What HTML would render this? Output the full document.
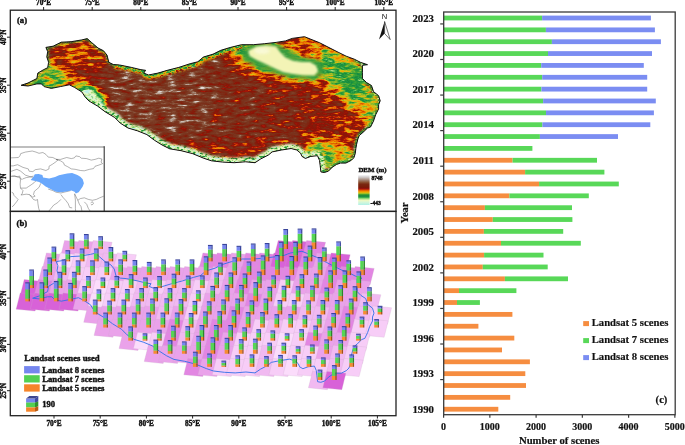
<!DOCTYPE html>
<html><head><meta charset="utf-8"><style>
html,body{margin:0;padding:0;background:#fff;width:685px;height:445px;overflow:hidden}
svg{display:block}
text{font-family:'Liberation Serif', 'Times New Roman', serif;fill:#111}
.sm{stroke:#111;stroke-width:0.4px}
.sm2{stroke:#111;stroke-width:0.18px}
</style></head><body>
<svg width="685" height="445" viewBox="0 0 685 445">
<rect x="443.60" y="15.60" width="98.50" height="4.8" fill="#58d858"/>
<rect x="542.10" y="15.60" width="108.80" height="4.8" fill="#7b8df2"/>
<rect x="443.60" y="27.46" width="102.30" height="4.8" fill="#58d858"/>
<rect x="545.90" y="27.46" width="109.00" height="4.8" fill="#7b8df2"/>
<rect x="443.60" y="39.31" width="108.30" height="4.8" fill="#58d858"/>
<rect x="551.90" y="39.31" width="109.00" height="4.8" fill="#7b8df2"/>
<rect x="443.60" y="51.16" width="104.40" height="4.8" fill="#58d858"/>
<rect x="548.00" y="51.16" width="104.00" height="4.8" fill="#7b8df2"/>
<rect x="443.60" y="63.02" width="97.60" height="4.8" fill="#58d858"/>
<rect x="541.20" y="63.02" width="102.60" height="4.8" fill="#7b8df2"/>
<rect x="443.60" y="74.88" width="98.60" height="4.8" fill="#58d858"/>
<rect x="542.20" y="74.88" width="105.00" height="4.8" fill="#7b8df2"/>
<rect x="443.60" y="86.73" width="97.80" height="4.8" fill="#58d858"/>
<rect x="541.40" y="86.73" width="105.80" height="4.8" fill="#7b8df2"/>
<rect x="443.60" y="98.58" width="99.50" height="4.8" fill="#58d858"/>
<rect x="543.10" y="98.58" width="112.70" height="4.8" fill="#7b8df2"/>
<rect x="443.60" y="110.44" width="102.40" height="4.8" fill="#58d858"/>
<rect x="546.00" y="110.44" width="107.90" height="4.8" fill="#7b8df2"/>
<rect x="443.60" y="122.30" width="98.80" height="4.8" fill="#58d858"/>
<rect x="542.40" y="122.30" width="107.90" height="4.8" fill="#7b8df2"/>
<rect x="443.60" y="134.15" width="96.30" height="4.8" fill="#58d858"/>
<rect x="539.90" y="134.15" width="78.10" height="4.8" fill="#7b8df2"/>
<rect x="443.60" y="146.00" width="88.80" height="4.8" fill="#58d858"/>
<rect x="443.60" y="157.86" width="69.00" height="4.8" fill="#f68d40"/>
<rect x="512.60" y="157.86" width="84.40" height="4.8" fill="#58d858"/>
<rect x="443.60" y="169.72" width="81.50" height="4.8" fill="#f68d40"/>
<rect x="525.10" y="169.72" width="79.30" height="4.8" fill="#58d858"/>
<rect x="443.60" y="181.57" width="95.50" height="4.8" fill="#f68d40"/>
<rect x="539.10" y="181.57" width="79.70" height="4.8" fill="#58d858"/>
<rect x="443.60" y="193.43" width="65.80" height="4.8" fill="#f68d40"/>
<rect x="509.40" y="193.43" width="79.40" height="4.8" fill="#58d858"/>
<rect x="443.60" y="205.28" width="41.30" height="4.8" fill="#f68d40"/>
<rect x="484.90" y="205.28" width="87.10" height="4.8" fill="#58d858"/>
<rect x="443.60" y="217.13" width="49.20" height="4.8" fill="#f68d40"/>
<rect x="492.80" y="217.13" width="79.60" height="4.8" fill="#58d858"/>
<rect x="443.60" y="228.99" width="40.30" height="4.8" fill="#f68d40"/>
<rect x="483.90" y="228.99" width="79.30" height="4.8" fill="#58d858"/>
<rect x="443.60" y="240.84" width="57.40" height="4.8" fill="#f68d40"/>
<rect x="501.00" y="240.84" width="79.80" height="4.8" fill="#58d858"/>
<rect x="443.60" y="252.70" width="40.50" height="4.8" fill="#f68d40"/>
<rect x="484.10" y="252.70" width="59.40" height="4.8" fill="#58d858"/>
<rect x="443.60" y="264.56" width="39.20" height="4.8" fill="#f68d40"/>
<rect x="482.80" y="264.56" width="64.90" height="4.8" fill="#58d858"/>
<rect x="443.60" y="276.41" width="61.30" height="4.8" fill="#f68d40"/>
<rect x="504.90" y="276.41" width="63.10" height="4.8" fill="#58d858"/>
<rect x="443.60" y="288.27" width="15.40" height="4.8" fill="#f68d40"/>
<rect x="459.00" y="288.27" width="57.40" height="4.8" fill="#58d858"/>
<rect x="443.60" y="300.12" width="13.40" height="4.8" fill="#f68d40"/>
<rect x="457.00" y="300.12" width="22.90" height="4.8" fill="#58d858"/>
<rect x="443.60" y="311.98" width="68.80" height="4.8" fill="#f68d40"/>
<rect x="443.60" y="323.83" width="34.80" height="4.8" fill="#f68d40"/>
<rect x="443.60" y="335.69" width="70.70" height="4.8" fill="#f68d40"/>
<rect x="443.60" y="347.54" width="58.40" height="4.8" fill="#f68d40"/>
<rect x="443.60" y="359.40" width="86.30" height="4.8" fill="#f68d40"/>
<rect x="443.60" y="371.25" width="81.70" height="4.8" fill="#f68d40"/>
<rect x="443.60" y="383.11" width="82.40" height="4.8" fill="#f68d40"/>
<rect x="443.60" y="394.96" width="66.60" height="4.8" fill="#f68d40"/>
<rect x="443.60" y="406.82" width="54.70" height="4.8" fill="#f68d40"/>
<rect x="443.7" y="12.0" width="231.50" height="402.70" fill="none" stroke="#3a3a3a" stroke-width="1.3"/>
<line x1="440.2" y1="23.93" x2="443.7" y2="23.93" stroke="#3a3a3a" stroke-width="1.2"/>
<line x1="440.2" y1="59.49" x2="443.7" y2="59.49" stroke="#3a3a3a" stroke-width="1.2"/>
<line x1="440.2" y1="95.06" x2="443.7" y2="95.06" stroke="#3a3a3a" stroke-width="1.2"/>
<line x1="440.2" y1="130.62" x2="443.7" y2="130.62" stroke="#3a3a3a" stroke-width="1.2"/>
<line x1="440.2" y1="166.19" x2="443.7" y2="166.19" stroke="#3a3a3a" stroke-width="1.2"/>
<line x1="440.2" y1="201.75" x2="443.7" y2="201.75" stroke="#3a3a3a" stroke-width="1.2"/>
<line x1="440.2" y1="237.32" x2="443.7" y2="237.32" stroke="#3a3a3a" stroke-width="1.2"/>
<line x1="440.2" y1="272.88" x2="443.7" y2="272.88" stroke="#3a3a3a" stroke-width="1.2"/>
<line x1="440.2" y1="308.45" x2="443.7" y2="308.45" stroke="#3a3a3a" stroke-width="1.2"/>
<line x1="440.2" y1="344.01" x2="443.7" y2="344.01" stroke="#3a3a3a" stroke-width="1.2"/>
<line x1="440.2" y1="379.58" x2="443.7" y2="379.58" stroke="#3a3a3a" stroke-width="1.2"/>
<line x1="443.60" y1="414.7" x2="443.60" y2="417.7" stroke="#3a3a3a" stroke-width="1.2"/>
<text x="443.60" y="430" font-size="10" text-anchor="middle" font-weight="bold" class="sm2">0</text>
<line x1="489.85" y1="414.7" x2="489.85" y2="417.7" stroke="#3a3a3a" stroke-width="1.2"/>
<text x="489.85" y="430" font-size="10" text-anchor="middle" font-weight="bold" class="sm2">1000</text>
<line x1="536.10" y1="414.7" x2="536.10" y2="417.7" stroke="#3a3a3a" stroke-width="1.2"/>
<text x="536.10" y="430" font-size="10" text-anchor="middle" font-weight="bold" class="sm2">2000</text>
<line x1="582.35" y1="414.7" x2="582.35" y2="417.7" stroke="#3a3a3a" stroke-width="1.2"/>
<text x="582.35" y="430" font-size="10" text-anchor="middle" font-weight="bold" class="sm2">3000</text>
<line x1="628.60" y1="414.7" x2="628.60" y2="417.7" stroke="#3a3a3a" stroke-width="1.2"/>
<text x="628.60" y="430" font-size="10" text-anchor="middle" font-weight="bold" class="sm2">4000</text>
<line x1="674.85" y1="414.7" x2="674.85" y2="417.7" stroke="#3a3a3a" stroke-width="1.2"/>
<text x="674.85" y="430" font-size="10" text-anchor="middle" font-weight="bold" class="sm2">5000</text>
<text x="434" y="21.70" font-size="10.8" text-anchor="end" font-weight="bold" class="sm2">2023</text>
<text x="434" y="57.27" font-size="10.8" text-anchor="end" font-weight="bold" class="sm2">2020</text>
<text x="434" y="92.83" font-size="10.8" text-anchor="end" font-weight="bold" class="sm2">2017</text>
<text x="434" y="128.40" font-size="10.8" text-anchor="end" font-weight="bold" class="sm2">2014</text>
<text x="434" y="163.96" font-size="10.8" text-anchor="end" font-weight="bold" class="sm2">2011</text>
<text x="434" y="199.53" font-size="10.8" text-anchor="end" font-weight="bold" class="sm2">2008</text>
<text x="434" y="235.09" font-size="10.8" text-anchor="end" font-weight="bold" class="sm2">2005</text>
<text x="434" y="270.66" font-size="10.8" text-anchor="end" font-weight="bold" class="sm2">2002</text>
<text x="434" y="306.22" font-size="10.8" text-anchor="end" font-weight="bold" class="sm2">1999</text>
<text x="434" y="341.79" font-size="10.8" text-anchor="end" font-weight="bold" class="sm2">1996</text>
<text x="434" y="377.35" font-size="10.8" text-anchor="end" font-weight="bold" class="sm2">1993</text>
<text x="434" y="412.92" font-size="10.8" text-anchor="end" font-weight="bold" class="sm2">1990</text>
<text transform="translate(408,213) rotate(-90)" font-size="10.5" text-anchor="middle" font-weight="bold" class="sm2">Year</text>
<text x="559.2" y="444.3" font-size="10.7" text-anchor="middle" font-weight="bold" class="sm2">Number of scenes</text>
<text x="661.5" y="403.3" font-size="10.6" text-anchor="middle" font-weight="bold" class="sm2">(c)</text>
<rect x="583.2" y="321.10" width="5.8" height="5.0" fill="#f68d40"/>
<text x="591.7" y="326.40" font-size="10.7" font-weight="bold" class="sm2">Landsat 5 scenes</text>
<rect x="583.2" y="338.10" width="5.8" height="5.0" fill="#58d858"/>
<text x="591.7" y="343.40" font-size="10.7" font-weight="bold" class="sm2">Landsat 7 scenes</text>
<rect x="583.2" y="355.10" width="5.8" height="5.0" fill="#7b8df2"/>
<text x="591.7" y="360.40" font-size="10.7" font-weight="bold" class="sm2">Landsat 8 scenes</text>
<defs>
<clipPath id="clipA"><polygon points="21.1,85.3 28.0,83.0 36.9,78.5 37.8,73.1 43.2,69.9 47.7,67.7 48.6,62.3 46.8,56.9 47.7,51.6 45.9,47.4 53.1,46.2 61.2,42.2 71.1,41.7 81.9,39.9 87.2,38.6 91.7,42.6 98.0,48.0 103.4,50.7 107.0,55.1 108.8,62.3 113.3,64.5 119.6,65.0 131.4,67.4 140.9,69.7 145.6,70.3 143.7,73.1 148.5,75.0 158.0,73.1 167.4,70.3 178.8,67.4 190.2,63.7 197.8,61.8 203.5,57.0 213.0,54.2 220.6,50.4 230.1,47.5 241.5,44.7 253.3,44.7 264.7,43.7 276.1,42.4 285.5,40.9 292.2,38.4 304.5,36.7 310.2,39.0 319.7,42.8 330.0,48.1 338.1,52.2 346.2,56.2 354.3,59.2 360.4,62.3 367.5,64.7 362.4,65.3 362.4,72.4 362.4,78.5 366.5,82.5 371.5,85.6 373.5,91.6 378.6,95.7 380.2,100.8 378.6,104.8 378.6,108.9 375.6,114.9 373.5,121.0 370.5,127.0 367.4,128.1 363.3,132.1 359.3,135.5 357.9,138.9 356.6,144.3 355.9,148.3 355.2,153.7 353.9,157.7 351.2,160.4 345.8,163.1 340.4,163.1 336.4,164.5 332.3,167.2 328.3,171.2 324.3,172.5 320.9,171.9 320.2,165.8 319.5,160.4 317.5,155.7 310.8,156.4 305.4,158.4 302.0,156.4 300.6,153.2 296.8,150.0 291.1,148.5 281.6,150.0 272.1,151.9 268.3,155.1 260.7,158.9 255.0,162.7 245.5,161.8 234.2,162.7 222.8,162.1 211.4,160.8 203.9,158.3 192.5,153.6 181.1,150.7 169.7,148.8 162.1,145.0 154.5,140.3 146.9,134.6 137.4,130.8 128.0,128.0 120.4,123.2 114.7,117.5 105.2,111.8 97.6,106.1 89.0,101.0 85.4,97.4 81.9,92.0 74.7,87.5 69.3,84.8 60.3,86.6 51.3,88.4 44.1,86.6 41.4,83.9 36.9,83.9 28.0,86.0"/></clipPath>
<filter id="gb1" x="-50%" y="-50%" width="200%" height="200%"><feGaussianBlur stdDeviation="1"/></filter>
<filter id="gb1_5" x="-50%" y="-50%" width="200%" height="200%"><feGaussianBlur stdDeviation="1.5"/></filter>
<filter id="gb2" x="-50%" y="-50%" width="200%" height="200%"><feGaussianBlur stdDeviation="2"/></filter>
<filter id="gb2_5" x="-50%" y="-50%" width="200%" height="200%"><feGaussianBlur stdDeviation="2.5"/></filter>
<filter id="gb3" x="-50%" y="-50%" width="200%" height="200%"><feGaussianBlur stdDeviation="3"/></filter>
<filter id="gb4" x="-50%" y="-50%" width="200%" height="200%"><feGaussianBlur stdDeviation="4"/></filter>
<filter id="gb5" x="-50%" y="-50%" width="200%" height="200%"><feGaussianBlur stdDeviation="5"/></filter>
<filter id="gb6" x="-50%" y="-50%" width="200%" height="200%"><feGaussianBlur stdDeviation="6"/></filter>
<filter id="gb8" x="-50%" y="-50%" width="200%" height="200%"><feGaussianBlur stdDeviation="8"/></filter>
<filter id="gb10" x="-50%" y="-50%" width="200%" height="200%"><feGaussianBlur stdDeviation="10"/></filter>
<linearGradient id="demLeg" x1="0" y1="0" x2="0" y2="1"><stop offset="0" stop-color="#eeeef0"/><stop offset="0.067" stop-color="#d0cccc"/><stop offset="0.17" stop-color="#a08070"/><stop offset="0.24" stop-color="#8a5030"/><stop offset="0.3" stop-color="#7a2810"/><stop offset="0.41" stop-color="#7a1a08"/><stop offset="0.46" stop-color="#a01010"/><stop offset="0.5" stop-color="#e05000"/><stop offset="0.53" stop-color="#f08000"/><stop offset="0.57" stop-color="#f0b000"/><stop offset="0.61" stop-color="#b0c020"/><stop offset="0.65" stop-color="#40a030"/><stop offset="0.7" stop-color="#108040"/><stop offset="0.75" stop-color="#40b050"/><stop offset="0.79" stop-color="#a0e080"/><stop offset="0.84" stop-color="#f0f8c0"/><stop offset="0.9" stop-color="#d8f8d8"/><stop offset="1" stop-color="#b0f0e8"/></linearGradient>
<filter id="dem" x="0" y="0" width="100%" height="100%" color-interpolation-filters="sRGB"><feGaussianBlur in="SourceGraphic" stdDeviation="4" result="base"/><feTurbulence type="fractalNoise" baseFrequency="0.09 0.3" numOctaves="4" seed="4" result="noise"/><feColorMatrix in="noise" type="matrix" values="1 0 0 0 0  1 0 0 0 0  1 0 0 0 0  0 0 0 0 1" result="ng"/><feComposite in="base" in2="ng" operator="arithmetic" k1="0" k2="1" k3="0.46" k4="-0.23" result="elev"/><feComponentTransfer in="elev"><feFuncR type="table" tableValues="0.706 0.728 0.749 0.771 0.793 0.815 0.848 0.881 0.914 0.929 0.863 0.796 0.730 0.642 0.523 0.403 0.294 0.217 0.140 0.074 0.112 0.149 0.186 0.283 0.382 0.482 0.598 0.717 0.837 0.891 0.911 0.931 0.929 0.904 0.879 0.781 0.685 0.629 0.573 0.540 0.525 0.509 0.500 0.491 0.485 0.482 0.478 0.485 0.491 0.508 0.536 0.564 0.625 0.687 0.747 0.803 0.859 0.874 0.887 0.899 0.912 0.924 0.937 0.949"/><feFuncG type="table" tableValues="0.941 0.946 0.951 0.955 0.960 0.965 0.967 0.969 0.971 0.968 0.943 0.918 0.893 0.859 0.809 0.759 0.707 0.650 0.593 0.544 0.571 0.599 0.626 0.656 0.686 0.716 0.730 0.739 0.749 0.714 0.654 0.595 0.523 0.439 0.355 0.219 0.093 0.084 0.075 0.085 0.110 0.134 0.153 0.172 0.187 0.199 0.212 0.227 0.243 0.275 0.325 0.375 0.479 0.585 0.678 0.756 0.834 0.854 0.870 0.886 0.901 0.917 0.933 0.949"/><feFuncB type="table" tableValues="0.918 0.907 0.896 0.885 0.874 0.863 0.839 0.814 0.789 0.757 0.695 0.633 0.571 0.505 0.436 0.366 0.309 0.292 0.275 0.258 0.245 0.233 0.220 0.210 0.200 0.190 0.156 0.117 0.077 0.050 0.030 0.010 0.000 0.000 0.000 0.016 0.031 0.028 0.025 0.031 0.043 0.056 0.071 0.087 0.101 0.113 0.126 0.138 0.151 0.183 0.236 0.289 0.405 0.523 0.630 0.724 0.817 0.840 0.858 0.877 0.895 0.913 0.931 0.949"/><feFuncA type="linear" slope="0" intercept="1"/></feComponentTransfer></filter>
<filter id="dem2" x="0" y="0" width="100%" height="100%" color-interpolation-filters="sRGB"><feGaussianBlur in="SourceGraphic" stdDeviation="0.9" result="base"/><feTurbulence type="fractalNoise" baseFrequency="0.25 0.5" numOctaves="3" seed="9" result="noise"/><feColorMatrix in="noise" type="matrix" values="1 0 0 0 0  1 0 0 0 0  1 0 0 0 0  0 0 0 0 1" result="ng"/><feColorMatrix in="base" type="matrix" values="1 0 0 0 0  0 1 0 0 0  0 0 1 0 0  0 0 0 0 1" result="b2"/><feComposite in="b2" in2="ng" operator="arithmetic" k1="0" k2="1" k3="0.6" k4="-0.3" result="elev"/><feComponentTransfer in="elev" result="col"><feFuncR type="table" tableValues="0.706 0.728 0.749 0.771 0.793 0.815 0.848 0.881 0.914 0.929 0.863 0.796 0.730 0.642 0.523 0.403 0.294 0.217 0.140 0.074 0.112 0.149 0.186 0.283 0.382 0.482 0.598 0.717 0.837 0.891 0.911 0.931 0.929 0.904 0.879 0.781 0.685 0.629 0.573 0.540 0.525 0.509 0.500 0.491 0.485 0.482 0.478 0.485 0.491 0.508 0.536 0.564 0.625 0.687 0.747 0.803 0.859 0.874 0.887 0.899 0.912 0.924 0.937 0.949"/><feFuncG type="table" tableValues="0.941 0.946 0.951 0.955 0.960 0.965 0.967 0.969 0.971 0.968 0.943 0.918 0.893 0.859 0.809 0.759 0.707 0.650 0.593 0.544 0.571 0.599 0.626 0.656 0.686 0.716 0.730 0.739 0.749 0.714 0.654 0.595 0.523 0.439 0.355 0.219 0.093 0.084 0.075 0.085 0.110 0.134 0.153 0.172 0.187 0.199 0.212 0.227 0.243 0.275 0.325 0.375 0.479 0.585 0.678 0.756 0.834 0.854 0.870 0.886 0.901 0.917 0.933 0.949"/><feFuncB type="table" tableValues="0.918 0.907 0.896 0.885 0.874 0.863 0.839 0.814 0.789 0.757 0.695 0.633 0.571 0.505 0.436 0.366 0.309 0.292 0.275 0.258 0.245 0.233 0.220 0.210 0.200 0.190 0.156 0.117 0.077 0.050 0.030 0.010 0.000 0.000 0.000 0.016 0.031 0.028 0.025 0.031 0.043 0.056 0.071 0.087 0.101 0.113 0.126 0.138 0.151 0.183 0.236 0.289 0.405 0.523 0.630 0.724 0.817 0.840 0.858 0.877 0.895 0.913 0.931 0.949"/><feFuncA type="linear" slope="0" intercept="1"/></feComponentTransfer><feComposite in="col" in2="base" operator="in"/></filter>
</defs>
<g clip-path="url(#clipA)"><g filter="url(#dem)">
<rect x="12" y="30" width="375" height="150" fill="rgb(168,168,168)"/>
<polygon points="95.0,60.0 240.0,48.0 262.0,62.0 262.0,150.0 180.0,152.0 110.0,122.0 95.0,90.0" fill="rgb(176,176,176)"/>
<polygon points="100.0,66.0 200.0,58.0 215.0,100.0 200.0,140.0 150.0,138.0 112.0,118.0 100.0,90.0" fill="rgb(189,189,189)"/>
<polygon points="262.0,70.0 300.0,78.0 305.0,150.0 262.0,158.0" fill="rgb(168,168,168)"/>
<polygon points="120.0,128.0 200.0,140.0 260.0,142.0 300.0,140.0 300.0,152.0 250.0,158.0 190.0,152.0 130.0,138.0" fill="rgb(158,158,158)"/>
<polygon points="45.0,40.0 90.0,36.0 110.0,55.0 112.0,70.0 95.0,74.0 60.0,72.0 46.0,62.0" fill="rgb(150,150,150)"/>
<polygon points="60.0,42.0 100.0,40.0 108.0,56.0 90.0,60.0 62.0,56.0" fill="rgb(140,140,140)"/>
<polygon points="18.0,88.0 38.0,74.0 48.0,64.0 62.0,68.0 72.0,84.0 60.0,92.0 40.0,92.0" fill="rgb(97,97,97)"/>
<polygon points="60.0,78.0 80.0,80.0 96.0,95.0 100.0,106.0 88.0,104.0 72.0,92.0" fill="rgb(120,120,120)"/>
<polygon points="78.0,86.0 90.0,86.0 101.0,96.0 108.0,108.0 100.0,112.0 86.0,104.0" fill="rgb(0,0,0)"/>
<polygon points="238.0,58.0 255.0,64.0 280.0,72.0 318.0,76.0 330.0,84.0 300.0,86.0 260.0,80.0 235.0,72.0" fill="rgb(140,140,140)"/>
<polygon points="285.0,36.0 305.0,33.0 332.0,46.0 330.0,64.0 312.0,62.0 296.0,58.0 284.0,50.0" fill="rgb(138,138,138)"/>
<polygon points="230.0,40.0 252.0,40.0 252.0,60.0 232.0,60.0" fill="rgb(89,89,89)"/>
<polygon points="244.0,49.0 258.0,43.0 278.0,44.0 300.0,58.0 320.0,61.0 324.0,73.0 314.0,79.0 290.0,77.0 262.0,69.0 244.0,59.0" fill="rgb(76,76,76)"/>
<polygon points="322.0,50.0 345.0,56.0 366.0,66.0 366.0,84.0 378.0,98.0 376.0,110.0 352.0,106.0 330.0,86.0 322.0,70.0" fill="rgb(87,87,87)"/>
<polygon points="300.0,84.0 330.0,86.0 352.0,106.0 372.0,112.0 360.0,140.0 345.0,160.0 320.0,165.0 305.0,150.0 295.0,120.0" fill="rgb(158,158,158)"/>
<polygon points="335.0,102.0 374.0,108.0 368.0,135.0 356.0,160.0 344.0,162.0 335.0,140.0" fill="rgb(150,150,150)"/>
<polygon points="312.0,138.0 340.0,142.0 356.0,155.0 345.0,166.0 325.0,173.0 318.0,160.0 302.0,154.0" fill="rgb(107,107,107)"/>
<polygon points="366.0,86.0 382.0,96.0 380.0,112.0 372.0,128.0 362.0,124.0" fill="rgb(107,107,107)"/>
</g>
<g filter="url(#dem2)">
<polyline points="320.9,171.9 320.2,165.8 319.5,160.4 317.5,155.7 310.8,156.4 305.4,158.4 302.0,156.4 300.6,153.2 296.8,150.0 291.1,148.5 281.6,150.0 272.1,151.9 268.3,155.1 260.7,158.9 255.0,162.7 245.5,161.8 234.2,162.7 222.8,162.1 211.4,160.8 203.9,158.3 192.5,153.6 181.1,150.7 169.7,148.8 162.1,145.0 154.5,140.3 146.9,134.6 137.4,130.8 128.0,128.0 120.4,123.2 114.7,117.5 105.2,111.8 97.6,106.1 89.0,101.0 85.4,97.4" fill="none" stroke="rgb(43,43,43)" stroke-width="10" stroke-linejoin="round"/>
<polyline points="113.3,64.5 119.6,65.0 131.4,67.4 140.9,69.7 145.6,70.3 143.7,73.1 148.5,75.0 158.0,73.1 167.4,70.3 178.8,67.4 190.2,63.7 197.8,61.8 203.5,57.0 213.0,54.2 220.6,50.4 230.1,47.5 241.5,44.7" fill="none" stroke="rgb(128,128,128)" stroke-width="4" stroke-linejoin="round" transform="translate(0.5,2.4)"/>
<polyline points="113.3,64.5 119.6,65.0 131.4,67.4 140.9,69.7 145.6,70.3 143.7,73.1 148.5,75.0 158.0,73.1 167.4,70.3 178.8,67.4 190.2,63.7 197.8,61.8 203.5,57.0 213.0,54.2 220.6,50.4 230.1,47.5 241.5,44.7" fill="none" stroke="rgb(84,84,84)" stroke-width="4" stroke-linejoin="round"/>
<polyline points="354.3,59.2 360.4,62.3 367.5,64.7 362.4,65.3 362.4,72.4 362.4,78.5 366.5,82.5 371.5,85.6 373.5,91.6 378.6,95.7 380.2,100.8 378.6,104.8 378.6,108.9 375.6,114.9 373.5,121.0 370.5,127.0 367.4,128.1 363.3,132.1 359.3,135.5 357.9,138.9 356.6,144.3 355.9,148.3 355.2,153.7 353.9,157.7 351.2,160.4 345.8,163.1 340.4,163.1 336.4,164.5 332.3,167.2 328.3,171.2 324.3,172.5 320.9,171.9" fill="none" stroke="rgb(76,76,76)" stroke-width="4" stroke-linejoin="round"/>
<polyline points="21.1,85.3 28.0,83.0 36.9,78.5 37.8,73.1 43.2,69.9 47.7,67.7 48.6,62.3 46.8,56.9 47.7,51.6 45.9,47.4 53.1,46.2 61.2,42.2 71.1,41.7 81.9,39.9 87.2,38.6 91.7,42.6 98.0,48.0 103.4,50.7 107.0,55.1 108.8,62.3 113.3,64.5" fill="none" stroke="rgb(84,84,84)" stroke-width="2.6" stroke-linejoin="round"/>
</g>
<polygon points="244.0,49.0 258.0,43.0 278.0,44.0 300.0,57.0 320.0,60.0 325.0,73.0 315.0,80.0 290.0,78.0 262.0,70.0 243.0,60.0" fill="#3d9d3d" opacity="0.85" filter="url(#gb1_5)"/>
<polygon points="248.2,50.8 256.5,46.5 266.3,45.2 276.0,46.6 280.5,52.5 285.5,57.5 293.0,60.8 302.0,62.0 310.0,62.0 316.0,65.5 318.2,71.2 314.4,75.4 303.0,75.2 292.4,74.0 283.0,72.2 274.8,68.6 265.5,64.0 256.5,60.0 249.5,56.0" fill="#f3f4b6" filter="url(#gb1)"/>
<ellipse cx="262" cy="51" rx="8" ry="3" fill="#fbfbe0" opacity="0.8" filter="url(#gb1_5)"/>
</g>
<polygon points="21.1,85.3 28.0,83.0 36.9,78.5 37.8,73.1 43.2,69.9 47.7,67.7 48.6,62.3 46.8,56.9 47.7,51.6 45.9,47.4 53.1,46.2 61.2,42.2 71.1,41.7 81.9,39.9 87.2,38.6 91.7,42.6 98.0,48.0 103.4,50.7 107.0,55.1 108.8,62.3 113.3,64.5 119.6,65.0 131.4,67.4 140.9,69.7 145.6,70.3 143.7,73.1 148.5,75.0 158.0,73.1 167.4,70.3 178.8,67.4 190.2,63.7 197.8,61.8 203.5,57.0 213.0,54.2 220.6,50.4 230.1,47.5 241.5,44.7 253.3,44.7 264.7,43.7 276.1,42.4 285.5,40.9 292.2,38.4 304.5,36.7 310.2,39.0 319.7,42.8 330.0,48.1 338.1,52.2 346.2,56.2 354.3,59.2 360.4,62.3 367.5,64.7 362.4,65.3 362.4,72.4 362.4,78.5 366.5,82.5 371.5,85.6 373.5,91.6 378.6,95.7 380.2,100.8 378.6,104.8 378.6,108.9 375.6,114.9 373.5,121.0 370.5,127.0 367.4,128.1 363.3,132.1 359.3,135.5 357.9,138.9 356.6,144.3 355.9,148.3 355.2,153.7 353.9,157.7 351.2,160.4 345.8,163.1 340.4,163.1 336.4,164.5 332.3,167.2 328.3,171.2 324.3,172.5 320.9,171.9 320.2,165.8 319.5,160.4 317.5,155.7 310.8,156.4 305.4,158.4 302.0,156.4 300.6,153.2 296.8,150.0 291.1,148.5 281.6,150.0 272.1,151.9 268.3,155.1 260.7,158.9 255.0,162.7 245.5,161.8 234.2,162.7 222.8,162.1 211.4,160.8 203.9,158.3 192.5,153.6 181.1,150.7 169.7,148.8 162.1,145.0 154.5,140.3 146.9,134.6 137.4,130.8 128.0,128.0 120.4,123.2 114.7,117.5 105.2,111.8 97.6,106.1 89.0,101.0 85.4,97.4 81.9,92.0 74.7,87.5 69.3,84.8 60.3,86.6 51.3,88.4 44.1,86.6 41.4,83.9 36.9,83.9 28.0,86.0" fill="none" stroke="#111" stroke-width="1"/>
<text x="384.5" y="19.2" font-size="7.6" text-anchor="middle" style="font-family:Liberation Sans,sans-serif">N</text>
<polygon points="384.6,21.5 379,39.6 384.6,33.5" fill="#111"/>
<polygon points="384.6,21.5 390.2,39.6 384.6,33.5" fill="#fff" stroke="#111" stroke-width="0.6"/>
<text x="358.4" y="171.9" font-size="6.9" font-weight="bold" class="sm">DEM (m)</text>
<rect x="358.2" y="175.2" width="11.4" height="29.8" fill="url(#demLeg)"/>
<text x="371.4" y="180.3" font-size="5.6" font-weight="bold" class="sm">8748</text>
<text x="370.6" y="204.5" font-size="5.6" font-weight="bold" class="sm">-443</text>
<rect x="10.3" y="146.8" width="93.9" height="64.4" fill="#fff"/>
<polyline points="10.5,157.9 18.4,157.5 19.9,155.9 20.7,153.6 25.3,152.1 32.2,151.0 36.0,152.1 39.0,153.3 42.9,152.5 45.9,154.4 48.2,157.1 52.8,157.5 56.6,159.4 58.0,159.8 56.6,161.3 52.8,164.0 49.0,166.3 49.0,168.9 45.9,170.5 40.6,168.9 35.2,169.7 32.9,171.6" fill="none" stroke="#555" stroke-width="0.45"/>
<polyline points="10.5,165.9 13.1,165.9 17.6,164.7 23.0,167.4 28.3,168.9 29.1,171.2 32.9,171.6" fill="none" stroke="#555" stroke-width="0.45"/>
<polyline points="10.5,171.2 11.5,171.2 16.9,169.3 20.7,171.2 25.3,175.1 29.9,176.6 32.9,177.3" fill="none" stroke="#555" stroke-width="0.45"/>
<polyline points="10.5,176.6 14.6,175.8 20.7,178.1 22.2,180.0" fill="none" stroke="#555" stroke-width="0.45"/>
<polyline points="56.0,159.4 60.6,159.4 66.7,157.5 71.3,158.6 74.3,157.9 75.9,155.9 79.7,156.7 81.2,158.2 86.6,158.6 91.2,160.1 95.0,159.4 98.8,158.2 101.9,159.0 101.1,162.1 102.6,163.6 98.8,165.1 95.0,166.3 93.5,168.6 89.6,169.3 84.3,170.8 80.5,170.5 75.1,169.3 71.3,168.9 67.5,166.6 64.4,165.1 63.6,162.8 60.6,160.9 56.0,159.4" fill="none" stroke="#555" stroke-width="0.45"/>
<polyline points="11.6,176.0 17.3,176.8 19.7,176.0 20.5,180.0 20.1,184.1 20.5,188.1 23.0,190.6 22.1,193.8 20.9,195.0" fill="none" stroke="#555" stroke-width="0.45"/>
<polyline points="22.5,179.0 26.2,177.6 31.1,176.8 33.5,176.0" fill="none" stroke="#555" stroke-width="0.45"/>
<polyline points="20.5,188.1 26.2,188.1 28.6,186.5 31.1,184.9 34.3,182.5 35.9,180.9" fill="none" stroke="#555" stroke-width="0.45"/>
<polyline points="40.8,183.3 39.1,187.3 34.3,191.4 33.5,194.6 35.1,196.2 32.7,197.1 29.4,194.6 26.2,194.2 20.9,195.0" fill="none" stroke="#555" stroke-width="0.45"/>
<polyline points="29.4,194.6 31.9,197.5 33.5,199.5 35.9,200.3 37.5,199.5 37.9,203.5 38.7,208.4 39.6,211.0" fill="none" stroke="#555" stroke-width="0.45"/>
<polyline points="11.6,192.2 13.2,193.0 14.0,195.4 16.5,197.9 18.1,199.5 16.5,201.9 13.2,206.0 12.0,206.8" fill="none" stroke="#555" stroke-width="0.45"/>
<polyline points="48.1,189.0 52.9,190.6 56.0,192.2 60.9,193.0 64.1,192.2 70.6,190.6" fill="none" stroke="#555" stroke-width="0.45"/>
<polyline points="48.9,211.0 53.7,205.1 57.6,202.7 60.9,199.4" fill="none" stroke="#555" stroke-width="0.45"/>
<polyline points="60.9,194.6 63.3,197.8 65.7,200.3 68.1,203.5 69.7,207.5 72.2,207.9" fill="none" stroke="#555" stroke-width="0.45"/>
<polyline points="74.6,193.8 76.2,197.0 77.8,200.3 79.4,204.3 81.1,206.7 81.9,211.0" fill="none" stroke="#555" stroke-width="0.45"/>
<polyline points="77.8,200.3 80.3,198.6 84.3,197.8 88.3,199.4 92.4,200.3 96.4,199.4 99.7,197.8 103.7,196.2" fill="none" stroke="#555" stroke-width="0.45"/>
<polyline points="84.3,201.9 86.7,204.3 88.3,208.3 90.0,211.0" fill="none" stroke="#555" stroke-width="0.45"/>
<polyline points="74.6,193.8 75.4,200.0 75.4,208.3 75.6,211.0" fill="none" stroke="#555" stroke-width="0.45"/>
<polyline points="90.8,202.5 92.6,201.8 93.4,203.6 92.0,205.1 90.8,204.0" fill="none" stroke="#555" stroke-width="0.45"/>
<polygon points="30.6,180.0 33.5,176.8 34.8,174.3 38.6,173.9 42.4,175.1 43.1,177.4 49.1,178.4 55.1,176.9 59.0,175.3 63.6,174.3 67.2,173.6 72.1,173.1 77.4,175.1 80.3,176.8 82.7,179.2 83.9,183.3 82.7,186.5 80.3,190.1 78.6,192.2 75.8,193.4 74.6,191.8 71.4,190.6 66.5,191.4 60.9,192.2 56.0,191.8 50.5,189.0 45.6,186.5 42.4,184.1 39.1,182.1 35.1,180.9" fill="#6aa8fc"/>
<line x1="10.3" y1="146.9" x2="104.2" y2="146.9" stroke="#a8a8a8" stroke-width="1.5"/>
<line x1="104.2" y1="146.2" x2="104.2" y2="211.4" stroke="#222" stroke-width="1"/>
<polygon points="64.5,240.5 83.5,242.3 79.5,258.8 60.5,256.9" fill="#eaa2ea" stroke="#caa8ca" stroke-width="0.25"/>
<polygon points="78.8,240.5 97.8,242.3 93.8,258.8 74.8,256.9" fill="#eaa2ea" stroke="#caa8ca" stroke-width="0.25"/>
<polygon points="93.1,240.5 112.1,242.3 108.0,258.8 89.0,256.9" fill="#f1b9f1" stroke="#caa8ca" stroke-width="0.25"/>
<polygon points="278.2,240.5 297.2,242.3 293.1,258.8 274.1,256.9" fill="#d862d8" stroke="#caa8ca" stroke-width="0.25"/>
<polygon points="292.6,240.5 311.6,242.3 307.4,258.8 288.4,256.9" fill="#d862d8" stroke="#caa8ca" stroke-width="0.25"/>
<polygon points="306.6,240.5 325.6,242.3 321.4,258.8 302.4,256.9" fill="#e286e2" stroke="#caa8ca" stroke-width="0.25"/>
<polygon points="46.4,252.9 65.5,254.8 61.4,271.1 42.4,269.2" fill="#eaa2ea" stroke="#caa8ca" stroke-width="0.25"/>
<polygon points="60.3,252.9 79.3,254.8 75.2,271.1 56.2,269.2" fill="#fbdcfb" stroke="#caa8ca" stroke-width="0.25"/>
<polygon points="74.6,252.9 93.6,254.8 89.5,271.1 70.5,269.2" fill="#f7cdf7" stroke="#caa8ca" stroke-width="0.25"/>
<polygon points="88.8,252.9 107.8,254.8 103.8,271.1 84.8,269.2" fill="#f1b9f1" stroke="#caa8ca" stroke-width="0.25"/>
<polygon points="103.5,252.9 122.5,254.8 118.4,271.1 99.4,269.2" fill="#f1b9f1" stroke="#caa8ca" stroke-width="0.25"/>
<polygon points="117.3,252.9 136.4,254.8 132.2,271.1 113.2,269.2" fill="#f7cdf7" stroke="#caa8ca" stroke-width="0.25"/>
<polygon points="202.9,252.9 221.9,254.8 217.8,271.1 198.8,269.2" fill="#e286e2" stroke="#caa8ca" stroke-width="0.25"/>
<polygon points="217.2,252.9 236.2,254.8 232.0,271.1 213.0,269.2" fill="#e286e2" stroke="#caa8ca" stroke-width="0.25"/>
<polygon points="231.5,252.9 250.5,254.8 246.3,271.1 227.3,269.2" fill="#eaa2ea" stroke="#caa8ca" stroke-width="0.25"/>
<polygon points="245.8,252.9 264.8,254.8 260.6,271.1 241.6,269.2" fill="#e286e2" stroke="#caa8ca" stroke-width="0.25"/>
<polygon points="259.7,252.9 278.7,254.8 274.6,271.1 255.6,269.2" fill="#e286e2" stroke="#caa8ca" stroke-width="0.25"/>
<polygon points="273.9,252.9 292.9,254.8 288.8,271.1 269.8,269.2" fill="#d862d8" stroke="#caa8ca" stroke-width="0.25"/>
<polygon points="288.2,252.9 307.2,254.8 303.1,271.1 284.1,269.2" fill="#d862d8" stroke="#caa8ca" stroke-width="0.25"/>
<polygon points="302.6,252.9 321.6,254.8 317.4,271.1 298.4,269.2" fill="#e286e2" stroke="#caa8ca" stroke-width="0.25"/>
<polygon points="316.9,252.9 335.9,254.8 331.8,271.1 312.8,269.2" fill="#eaa2ea" stroke="#caa8ca" stroke-width="0.25"/>
<polygon points="331.2,252.9 350.2,254.8 346.1,271.1 327.1,269.2" fill="#d862d8" stroke="#caa8ca" stroke-width="0.25"/>
<polygon points="42.2,266.6 61.2,268.4 57.2,284.8 38.2,282.9" fill="#eaa2ea" stroke="#caa8ca" stroke-width="0.25"/>
<polygon points="56.5,266.6 75.5,268.4 71.5,284.8 52.5,282.9" fill="#f1b9f1" stroke="#caa8ca" stroke-width="0.25"/>
<polygon points="70.6,266.6 89.6,268.4 85.5,284.8 66.5,282.9" fill="#f7cdf7" stroke="#caa8ca" stroke-width="0.25"/>
<polygon points="85.0,266.6 104.0,268.4 99.9,284.8 80.9,282.9" fill="#f7cdf7" stroke="#caa8ca" stroke-width="0.25"/>
<polygon points="99.3,266.6 118.3,268.4 114.2,284.8 95.2,282.9" fill="#f7cdf7" stroke="#caa8ca" stroke-width="0.25"/>
<polygon points="113.1,266.6 132.2,268.4 128.0,284.8 109.0,282.9" fill="#eaa2ea" stroke="#caa8ca" stroke-width="0.25"/>
<polygon points="127.5,266.6 146.5,268.4 142.3,284.8 123.4,282.9" fill="#eaa2ea" stroke="#caa8ca" stroke-width="0.25"/>
<polygon points="141.8,266.6 160.8,268.4 156.6,284.8 137.6,282.9" fill="#eaa2ea" stroke="#caa8ca" stroke-width="0.25"/>
<polygon points="156.1,266.6 175.1,268.4 170.9,284.8 151.9,282.9" fill="#eaa2ea" stroke="#caa8ca" stroke-width="0.25"/>
<polygon points="170.2,266.6 189.2,268.4 185.1,284.8 166.1,282.9" fill="#eaa2ea" stroke="#caa8ca" stroke-width="0.25"/>
<polygon points="184.6,266.6 203.6,268.4 199.4,284.8 180.4,282.9" fill="#eaa2ea" stroke="#caa8ca" stroke-width="0.25"/>
<polygon points="198.7,266.6 217.7,268.4 213.5,284.8 194.5,282.9" fill="#eaa2ea" stroke="#caa8ca" stroke-width="0.25"/>
<polygon points="213.0,266.6 232.0,268.4 227.8,284.8 208.8,282.9" fill="#f1b9f1" stroke="#caa8ca" stroke-width="0.25"/>
<polygon points="227.2,266.6 246.2,268.4 242.1,284.8 223.1,282.9" fill="#eaa2ea" stroke="#caa8ca" stroke-width="0.25"/>
<polygon points="241.6,266.6 260.6,268.4 256.4,284.8 237.4,282.9" fill="#e286e2" stroke="#caa8ca" stroke-width="0.25"/>
<polygon points="255.7,266.6 274.7,268.4 270.6,284.8 251.6,282.9" fill="#e286e2" stroke="#caa8ca" stroke-width="0.25"/>
<polygon points="269.9,266.6 288.9,268.4 284.8,284.8 265.8,282.9" fill="#e286e2" stroke="#caa8ca" stroke-width="0.25"/>
<polygon points="284.4,266.6 303.4,268.4 299.2,284.8 280.2,282.9" fill="#e286e2" stroke="#caa8ca" stroke-width="0.25"/>
<polygon points="298.4,266.6 317.4,268.4 313.2,284.8 294.2,282.9" fill="#eaa2ea" stroke="#caa8ca" stroke-width="0.25"/>
<polygon points="312.7,266.6 331.7,268.4 327.6,284.8 308.6,282.9" fill="#eaa2ea" stroke="#caa8ca" stroke-width="0.25"/>
<polygon points="326.9,266.6 345.9,268.4 341.8,284.8 322.8,282.9" fill="#e286e2" stroke="#caa8ca" stroke-width="0.25"/>
<polygon points="341.2,266.6 360.2,268.4 356.1,284.8 337.1,282.9" fill="#e286e2" stroke="#caa8ca" stroke-width="0.25"/>
<polygon points="355.2,266.6 374.2,268.4 370.1,284.8 351.1,282.9" fill="#e286e2" stroke="#caa8ca" stroke-width="0.25"/>
<polygon points="24.2,279.6 43.1,281.4 39.1,297.8 20.1,295.9" fill="#d862d8" stroke="#caa8ca" stroke-width="0.25"/>
<polygon points="38.2,279.6 57.2,281.4 53.2,297.8 34.2,295.9" fill="#e286e2" stroke="#caa8ca" stroke-width="0.25"/>
<polygon points="52.5,279.6 71.5,281.4 67.5,297.8 48.5,295.9" fill="#eaa2ea" stroke="#caa8ca" stroke-width="0.25"/>
<polygon points="66.8,279.6 85.8,281.4 81.8,297.8 62.8,295.9" fill="#eaa2ea" stroke="#caa8ca" stroke-width="0.25"/>
<polygon points="81.0,279.6 100.0,281.4 95.9,297.8 76.9,295.9" fill="#f7cdf7" stroke="#caa8ca" stroke-width="0.25"/>
<polygon points="95.5,279.6 114.5,281.4 110.4,297.8 91.4,295.9" fill="#fbdcfb" stroke="#caa8ca" stroke-width="0.25"/>
<polygon points="109.3,279.6 128.3,281.4 124.2,297.8 105.2,295.9" fill="#f7cdf7" stroke="#caa8ca" stroke-width="0.25"/>
<polygon points="123.6,279.6 142.7,281.4 138.5,297.8 119.5,295.9" fill="#f7cdf7" stroke="#caa8ca" stroke-width="0.25"/>
<polygon points="138.0,279.6 157.0,281.4 152.8,297.8 133.8,295.9" fill="#f1b9f1" stroke="#caa8ca" stroke-width="0.25"/>
<polygon points="152.1,279.6 171.1,281.4 166.9,297.8 147.9,295.9" fill="#f7cdf7" stroke="#caa8ca" stroke-width="0.25"/>
<polygon points="166.6,279.6 185.6,281.4 181.4,297.8 162.4,295.9" fill="#f1b9f1" stroke="#caa8ca" stroke-width="0.25"/>
<polygon points="180.8,279.6 199.8,281.4 195.6,297.8 176.6,295.9" fill="#f1b9f1" stroke="#caa8ca" stroke-width="0.25"/>
<polygon points="194.9,279.6 213.9,281.4 209.8,297.8 190.8,295.9" fill="#f7cdf7" stroke="#caa8ca" stroke-width="0.25"/>
<polygon points="209.2,279.6 228.2,281.4 224.0,297.8 205.0,295.9" fill="#f1b9f1" stroke="#caa8ca" stroke-width="0.25"/>
<polygon points="223.5,279.6 242.5,281.4 238.3,297.8 219.3,295.9" fill="#eaa2ea" stroke="#caa8ca" stroke-width="0.25"/>
<polygon points="237.6,279.6 256.6,281.4 252.4,297.8 233.4,295.9" fill="#e286e2" stroke="#caa8ca" stroke-width="0.25"/>
<polygon points="251.9,279.6 270.9,281.4 266.8,297.8 247.8,295.9" fill="#eaa2ea" stroke="#caa8ca" stroke-width="0.25"/>
<polygon points="266.2,279.6 285.2,281.4 281.1,297.8 262.1,295.9" fill="#eaa2ea" stroke="#caa8ca" stroke-width="0.25"/>
<polygon points="280.4,279.6 299.4,281.4 295.3,297.8 276.3,295.9" fill="#f7cdf7" stroke="#caa8ca" stroke-width="0.25"/>
<polygon points="294.4,279.6 313.4,281.4 309.3,297.8 290.3,295.9" fill="#eaa2ea" stroke="#caa8ca" stroke-width="0.25"/>
<polygon points="308.9,279.6 327.9,281.4 323.8,297.8 304.8,295.9" fill="#eaa2ea" stroke="#caa8ca" stroke-width="0.25"/>
<polygon points="323.2,279.6 342.2,281.4 338.1,297.8 319.1,295.9" fill="#e286e2" stroke="#caa8ca" stroke-width="0.25"/>
<polygon points="337.4,279.6 356.4,281.4 352.3,297.8 333.3,295.9" fill="#eaa2ea" stroke="#caa8ca" stroke-width="0.25"/>
<polygon points="351.4,279.6 370.4,281.4 366.2,297.8 347.2,295.9" fill="#eaa2ea" stroke="#caa8ca" stroke-width="0.25"/>
<polygon points="20.2,292.9 39.1,294.8 35.1,311.1 16.1,309.2" fill="#d862d8" stroke="#caa8ca" stroke-width="0.25"/>
<polygon points="34.4,292.9 53.4,294.8 49.4,311.1 30.3,309.2" fill="#d862d8" stroke="#caa8ca" stroke-width="0.25"/>
<polygon points="48.8,292.9 67.8,294.8 63.7,311.1 44.7,309.2" fill="#d862d8" stroke="#caa8ca" stroke-width="0.25"/>
<polygon points="63.0,292.9 82.0,294.8 78.0,311.1 59.0,309.2" fill="#d862d8" stroke="#caa8ca" stroke-width="0.25"/>
<polygon points="77.1,292.9 96.1,294.8 92.0,311.1 73.0,309.2" fill="#eaa2ea" stroke="#caa8ca" stroke-width="0.25"/>
<polygon points="91.5,292.9 110.5,294.8 106.4,311.1 87.4,309.2" fill="#fbdcfb" stroke="#caa8ca" stroke-width="0.25"/>
<polygon points="105.5,292.9 124.5,294.8 120.5,311.1 101.5,309.2" fill="#f7cdf7" stroke="#caa8ca" stroke-width="0.25"/>
<polygon points="119.8,292.9 138.9,294.8 134.8,311.1 115.8,309.2" fill="#f7cdf7" stroke="#caa8ca" stroke-width="0.25"/>
<polygon points="134.2,292.9 153.2,294.8 149.0,311.1 130.0,309.2" fill="#f1b9f1" stroke="#caa8ca" stroke-width="0.25"/>
<polygon points="148.2,292.9 167.2,294.8 163.1,311.1 144.1,309.2" fill="#f1b9f1" stroke="#caa8ca" stroke-width="0.25"/>
<polygon points="162.6,292.9 181.6,294.8 177.4,311.1 158.4,309.2" fill="#f1b9f1" stroke="#caa8ca" stroke-width="0.25"/>
<polygon points="177.0,292.9 196.0,294.8 191.8,311.1 172.8,309.2" fill="#f1b9f1" stroke="#caa8ca" stroke-width="0.25"/>
<polygon points="190.9,292.9 209.9,294.8 205.8,311.1 186.8,309.2" fill="#f7cdf7" stroke="#caa8ca" stroke-width="0.25"/>
<polygon points="205.2,292.9 224.2,294.8 220.1,311.1 201.1,309.2" fill="#eaa2ea" stroke="#caa8ca" stroke-width="0.25"/>
<polygon points="219.7,292.9 238.7,294.8 234.5,311.1 215.5,309.2" fill="#eaa2ea" stroke="#caa8ca" stroke-width="0.25"/>
<polygon points="234.0,292.9 253.0,294.8 248.8,311.1 229.8,309.2" fill="#eaa2ea" stroke="#caa8ca" stroke-width="0.25"/>
<polygon points="248.2,292.9 267.2,294.8 263.1,311.1 244.1,309.2" fill="#e286e2" stroke="#caa8ca" stroke-width="0.25"/>
<polygon points="262.4,292.9 281.4,294.8 277.2,311.1 258.2,309.2" fill="#eaa2ea" stroke="#caa8ca" stroke-width="0.25"/>
<polygon points="276.6,292.9 295.6,294.8 291.4,311.1 272.4,309.2" fill="#f7cdf7" stroke="#caa8ca" stroke-width="0.25"/>
<polygon points="290.7,292.9 309.7,294.8 305.6,311.1 286.6,309.2" fill="#f7cdf7" stroke="#caa8ca" stroke-width="0.25"/>
<polygon points="304.9,292.9 323.9,294.8 319.8,311.1 300.8,309.2" fill="#f1b9f1" stroke="#caa8ca" stroke-width="0.25"/>
<polygon points="319.4,292.9 338.4,294.8 334.2,311.1 315.2,309.2" fill="#eaa2ea" stroke="#caa8ca" stroke-width="0.25"/>
<polygon points="333.2,292.9 352.2,294.8 348.1,311.1 329.1,309.2" fill="#eaa2ea" stroke="#caa8ca" stroke-width="0.25"/>
<polygon points="347.6,292.9 366.6,294.8 362.4,311.1 343.4,309.2" fill="#eaa2ea" stroke="#caa8ca" stroke-width="0.25"/>
<polygon points="361.9,292.9 380.9,294.8 376.8,311.1 357.8,309.2" fill="#f1b9f1" stroke="#caa8ca" stroke-width="0.25"/>
<polygon points="87.8,305.9 106.8,307.8 102.7,324.2 83.7,322.3" fill="#eaa2ea" stroke="#caa8ca" stroke-width="0.25"/>
<polygon points="102.0,305.9 121.0,307.8 117.0,324.2 98.0,322.3" fill="#eaa2ea" stroke="#caa8ca" stroke-width="0.25"/>
<polygon points="116.3,305.9 135.4,307.8 131.2,324.2 112.2,322.3" fill="#eaa2ea" stroke="#caa8ca" stroke-width="0.25"/>
<polygon points="130.7,305.9 149.7,307.8 145.5,324.2 126.5,322.3" fill="#eaa2ea" stroke="#caa8ca" stroke-width="0.25"/>
<polygon points="145.0,305.9 164.0,307.8 159.8,324.2 140.8,322.3" fill="#eaa2ea" stroke="#caa8ca" stroke-width="0.25"/>
<polygon points="159.2,305.9 178.2,307.8 174.1,324.2 155.1,322.3" fill="#f1b9f1" stroke="#caa8ca" stroke-width="0.25"/>
<polygon points="173.6,305.9 192.6,307.8 188.4,324.2 169.4,322.3" fill="#eaa2ea" stroke="#caa8ca" stroke-width="0.25"/>
<polygon points="187.5,305.9 206.5,307.8 202.3,324.2 183.3,322.3" fill="#f7cdf7" stroke="#caa8ca" stroke-width="0.25"/>
<polygon points="201.8,305.9 220.8,307.8 216.6,324.2 197.6,322.3" fill="#eaa2ea" stroke="#caa8ca" stroke-width="0.25"/>
<polygon points="216.1,305.9 235.1,307.8 230.9,324.2 211.9,322.3" fill="#eaa2ea" stroke="#caa8ca" stroke-width="0.25"/>
<polygon points="230.2,305.9 249.2,307.8 245.0,324.2 226.0,322.3" fill="#e286e2" stroke="#caa8ca" stroke-width="0.25"/>
<polygon points="244.5,305.9 263.4,307.8 259.3,324.2 240.3,322.3" fill="#eaa2ea" stroke="#caa8ca" stroke-width="0.25"/>
<polygon points="258.4,305.9 277.4,307.8 273.3,324.2 254.3,322.3" fill="#eaa2ea" stroke="#caa8ca" stroke-width="0.25"/>
<polygon points="272.4,305.9 291.4,307.8 287.3,324.2 268.3,322.3" fill="#eaa2ea" stroke="#caa8ca" stroke-width="0.25"/>
<polygon points="286.8,305.9 305.8,307.8 301.6,324.2 282.6,322.3" fill="#eaa2ea" stroke="#caa8ca" stroke-width="0.25"/>
<polygon points="301.1,305.9 320.1,307.8 315.9,324.2 296.9,322.3" fill="#f1b9f1" stroke="#caa8ca" stroke-width="0.25"/>
<polygon points="315.4,305.9 334.4,307.8 330.3,324.2 311.3,322.3" fill="#f1b9f1" stroke="#caa8ca" stroke-width="0.25"/>
<polygon points="329.8,305.9 348.8,307.8 344.6,324.2 325.6,322.3" fill="#eaa2ea" stroke="#caa8ca" stroke-width="0.25"/>
<polygon points="343.8,305.9 362.8,307.8 358.6,324.2 339.6,322.3" fill="#e286e2" stroke="#caa8ca" stroke-width="0.25"/>
<polygon points="358.1,305.9 377.1,307.8 372.9,324.2 353.9,322.3" fill="#f1b9f1" stroke="#caa8ca" stroke-width="0.25"/>
<polygon points="372.6,305.9 391.6,307.8 387.4,324.2 368.4,322.3" fill="#f7cdf7" stroke="#caa8ca" stroke-width="0.25"/>
<polygon points="98.1,319.1 117.1,320.9 113.0,337.3 94.0,335.4" fill="#eaa2ea" stroke="#caa8ca" stroke-width="0.25"/>
<polygon points="112.5,319.1 131.6,320.9 127.5,337.3 108.5,335.4" fill="#eaa2ea" stroke="#caa8ca" stroke-width="0.25"/>
<polygon points="126.9,319.1 145.9,320.9 141.8,337.3 122.8,335.4" fill="#eaa2ea" stroke="#caa8ca" stroke-width="0.25"/>
<polygon points="141.2,319.1 160.2,320.9 156.0,337.3 137.0,335.4" fill="#eaa2ea" stroke="#caa8ca" stroke-width="0.25"/>
<polygon points="155.5,319.1 174.5,320.9 170.3,337.3 151.3,335.4" fill="#eaa2ea" stroke="#caa8ca" stroke-width="0.25"/>
<polygon points="169.8,319.1 188.8,320.9 184.6,337.3 165.6,335.4" fill="#e286e2" stroke="#caa8ca" stroke-width="0.25"/>
<polygon points="183.7,319.1 202.7,320.9 198.5,337.3 179.5,335.4" fill="#f1b9f1" stroke="#caa8ca" stroke-width="0.25"/>
<polygon points="198.0,319.1 217.0,320.9 212.8,337.3 193.8,335.4" fill="#eaa2ea" stroke="#caa8ca" stroke-width="0.25"/>
<polygon points="212.2,319.1 231.2,320.9 227.1,337.3 208.1,335.4" fill="#e286e2" stroke="#caa8ca" stroke-width="0.25"/>
<polygon points="226.6,319.1 245.6,320.9 241.4,337.3 222.4,335.4" fill="#e286e2" stroke="#caa8ca" stroke-width="0.25"/>
<polygon points="240.7,319.1 259.7,320.9 255.6,337.3 236.5,335.4" fill="#eaa2ea" stroke="#caa8ca" stroke-width="0.25"/>
<polygon points="254.9,319.1 273.9,320.9 269.8,337.3 250.8,335.4" fill="#f7cdf7" stroke="#caa8ca" stroke-width="0.25"/>
<polygon points="269.4,319.1 288.4,320.9 284.2,337.3 265.2,335.4" fill="#f1b9f1" stroke="#caa8ca" stroke-width="0.25"/>
<polygon points="283.2,319.1 302.2,320.9 298.1,337.3 279.1,335.4" fill="#f7cdf7" stroke="#caa8ca" stroke-width="0.25"/>
<polygon points="297.4,319.1 316.4,320.9 312.3,337.3 293.3,335.4" fill="#f7cdf7" stroke="#caa8ca" stroke-width="0.25"/>
<polygon points="311.8,319.1 330.8,320.9 326.6,337.3 307.6,335.4" fill="#f1b9f1" stroke="#caa8ca" stroke-width="0.25"/>
<polygon points="326.2,319.1 345.2,320.9 341.1,337.3 322.1,335.4" fill="#eaa2ea" stroke="#caa8ca" stroke-width="0.25"/>
<polygon points="340.4,319.1 359.4,320.9 355.2,337.3 336.2,335.4" fill="#e286e2" stroke="#caa8ca" stroke-width="0.25"/>
<polygon points="354.6,319.1 373.6,320.9 369.4,337.3 350.4,335.4" fill="#f7cdf7" stroke="#caa8ca" stroke-width="0.25"/>
<polygon points="369.2,319.1 388.2,320.9 384.1,337.3 365.1,335.4" fill="#f7cdf7" stroke="#caa8ca" stroke-width="0.25"/>
<polygon points="123.1,332.2 142.2,334.1 138.0,350.4 119.0,348.6" fill="#eaa2ea" stroke="#caa8ca" stroke-width="0.25"/>
<polygon points="137.6,332.2 156.6,334.1 152.4,350.4 133.4,348.6" fill="#fbdcfb" stroke="#caa8ca" stroke-width="0.25"/>
<polygon points="151.9,332.2 170.9,334.1 166.8,350.4 147.8,348.6" fill="#f7cdf7" stroke="#caa8ca" stroke-width="0.25"/>
<polygon points="166.0,332.2 185.0,334.1 180.8,350.4 161.8,348.6" fill="#e286e2" stroke="#caa8ca" stroke-width="0.25"/>
<polygon points="180.2,332.2 199.2,334.1 195.1,350.4 176.1,348.6" fill="#f1b9f1" stroke="#caa8ca" stroke-width="0.25"/>
<polygon points="194.5,332.2 213.5,334.1 209.3,350.4 190.3,348.6" fill="#eaa2ea" stroke="#caa8ca" stroke-width="0.25"/>
<polygon points="208.9,332.2 227.9,334.1 223.8,350.4 204.8,348.6" fill="#e286e2" stroke="#caa8ca" stroke-width="0.25"/>
<polygon points="223.2,332.2 242.2,334.1 238.0,350.4 219.0,348.6" fill="#eaa2ea" stroke="#caa8ca" stroke-width="0.25"/>
<polygon points="237.2,332.2 256.1,334.1 252.0,350.4 233.0,348.6" fill="#f7cdf7" stroke="#caa8ca" stroke-width="0.25"/>
<polygon points="251.2,332.2 270.2,334.1 266.1,350.4 247.1,348.6" fill="#f7cdf7" stroke="#caa8ca" stroke-width="0.25"/>
<polygon points="265.4,332.2 284.4,334.1 280.2,350.4 261.2,348.6" fill="#f7cdf7" stroke="#caa8ca" stroke-width="0.25"/>
<polygon points="279.7,332.2 298.7,334.1 294.6,350.4 275.6,348.6" fill="#fbdcfb" stroke="#caa8ca" stroke-width="0.25"/>
<polygon points="294.2,332.2 313.2,334.1 309.1,350.4 290.1,348.6" fill="#f7cdf7" stroke="#caa8ca" stroke-width="0.25"/>
<polygon points="308.2,332.2 327.2,334.1 323.1,350.4 304.1,348.6" fill="#e286e2" stroke="#caa8ca" stroke-width="0.25"/>
<polygon points="322.4,332.2 341.4,334.1 337.3,350.4 318.3,348.6" fill="#eaa2ea" stroke="#caa8ca" stroke-width="0.25"/>
<polygon points="336.8,332.2 355.8,334.1 351.6,350.4 332.6,348.6" fill="#eaa2ea" stroke="#caa8ca" stroke-width="0.25"/>
<polygon points="350.9,332.2 369.9,334.1 365.8,350.4 346.8,348.6" fill="#f7cdf7" stroke="#caa8ca" stroke-width="0.25"/>
<polygon points="148.4,345.2 167.4,347.1 163.2,363.5 144.2,361.6" fill="#eaa2ea" stroke="#caa8ca" stroke-width="0.25"/>
<polygon points="162.7,345.2 181.7,347.1 177.5,363.5 158.5,361.6" fill="#eaa2ea" stroke="#caa8ca" stroke-width="0.25"/>
<polygon points="176.9,345.2 195.9,347.1 191.8,363.5 172.8,361.6" fill="#eaa2ea" stroke="#caa8ca" stroke-width="0.25"/>
<polygon points="191.2,345.2 210.2,347.1 206.0,363.5 187.0,361.6" fill="#eaa2ea" stroke="#caa8ca" stroke-width="0.25"/>
<polygon points="205.5,345.2 224.5,347.1 220.3,363.5 201.3,361.6" fill="#e286e2" stroke="#caa8ca" stroke-width="0.25"/>
<polygon points="219.6,345.2 238.6,347.1 234.4,363.5 215.4,361.6" fill="#eaa2ea" stroke="#caa8ca" stroke-width="0.25"/>
<polygon points="233.8,345.2 252.8,347.1 248.6,363.5 229.6,361.6" fill="#f7cdf7" stroke="#caa8ca" stroke-width="0.25"/>
<polygon points="247.9,345.2 266.9,347.1 262.8,363.5 243.8,361.6" fill="#f7cdf7" stroke="#caa8ca" stroke-width="0.25"/>
<polygon points="262.2,345.2 281.2,347.1 277.1,363.5 258.1,361.6" fill="#f1b9f1" stroke="#caa8ca" stroke-width="0.25"/>
<polygon points="276.4,345.2 295.4,347.1 291.2,363.5 272.2,361.6" fill="#fbdcfb" stroke="#caa8ca" stroke-width="0.25"/>
<polygon points="290.7,345.2 309.7,347.1 305.6,363.5 286.6,361.6" fill="#f7cdf7" stroke="#caa8ca" stroke-width="0.25"/>
<polygon points="304.9,345.2 323.9,347.1 319.8,363.5 300.8,361.6" fill="#f7cdf7" stroke="#caa8ca" stroke-width="0.25"/>
<polygon points="319.2,345.2 338.2,347.1 334.1,363.5 315.1,361.6" fill="#eaa2ea" stroke="#caa8ca" stroke-width="0.25"/>
<polygon points="333.2,345.2 352.2,347.1 348.1,363.5 329.1,361.6" fill="#f1b9f1" stroke="#caa8ca" stroke-width="0.25"/>
<polygon points="347.6,345.2 366.6,347.1 362.4,363.5 343.4,361.6" fill="#f7cdf7" stroke="#caa8ca" stroke-width="0.25"/>
<polygon points="187.9,358.4 206.9,360.2 202.8,376.6 183.8,374.8" fill="#e286e2" stroke="#caa8ca" stroke-width="0.25"/>
<polygon points="202.1,358.4 221.1,360.2 216.9,376.6 197.9,374.8" fill="#eaa2ea" stroke="#caa8ca" stroke-width="0.25"/>
<polygon points="216.4,358.4 235.4,360.2 231.2,376.6 212.2,374.8" fill="#f7cdf7" stroke="#caa8ca" stroke-width="0.25"/>
<polygon points="230.2,358.4 249.2,360.2 245.1,376.6 226.1,374.8" fill="#f7cdf7" stroke="#caa8ca" stroke-width="0.25"/>
<polygon points="244.6,358.4 263.6,360.2 259.4,376.6 240.4,374.8" fill="#f7cdf7" stroke="#caa8ca" stroke-width="0.25"/>
<polygon points="258.9,358.4 277.9,360.2 273.8,376.6 254.8,374.8" fill="#f1b9f1" stroke="#caa8ca" stroke-width="0.25"/>
<polygon points="273.1,358.4 292.1,360.2 287.9,376.6 268.9,374.8" fill="#f7cdf7" stroke="#caa8ca" stroke-width="0.25"/>
<polygon points="287.2,358.4 306.2,360.2 302.1,376.6 283.1,374.8" fill="#fbdcfb" stroke="#caa8ca" stroke-width="0.25"/>
<polygon points="301.6,358.4 320.6,360.2 316.4,376.6 297.4,374.8" fill="#f7cdf7" stroke="#caa8ca" stroke-width="0.25"/>
<polygon points="315.9,358.4 334.9,360.2 330.8,376.6 311.8,374.8" fill="#f7cdf7" stroke="#caa8ca" stroke-width="0.25"/>
<polygon points="330.1,358.4 349.1,360.2 344.9,376.6 325.9,374.8" fill="#f1b9f1" stroke="#caa8ca" stroke-width="0.25"/>
<polygon points="344.2,358.4 363.2,360.2 359.1,376.6 340.1,374.8" fill="#f7cdf7" stroke="#caa8ca" stroke-width="0.25"/>
<polygon points="312.6,371.4 331.6,373.3 327.4,389.7 308.4,387.8" fill="#f1b9f1" stroke="#caa8ca" stroke-width="0.25"/>
<polygon points="326.9,371.4 345.9,373.3 341.8,389.7 322.8,387.8" fill="#d862d8" stroke="#caa8ca" stroke-width="0.25"/>
<polygon points="32.6,298.2 39.2,296.0 47.6,291.6 48.5,286.4 53.6,283.3 57.9,281.2 58.8,276.0 57.0,270.8 57.9,265.7 56.2,261.6 63.0,260.5 70.7,256.6 80.1,256.1 90.4,254.4 95.4,253.2 99.7,257.0 105.7,262.2 110.8,264.8 114.3,269.1 116.0,276.0 120.3,278.1 126.2,278.6 137.5,280.9 146.5,283.1 151.0,283.7 149.2,286.4 153.7,288.3 162.8,286.4 171.7,283.7 182.5,280.9 193.4,277.4 200.6,275.5 206.0,270.9 215.0,268.2 222.3,264.5 231.3,261.7 242.1,259.0 253.3,259.0 264.2,258.1 275.0,256.8 284.0,255.4 290.3,253.0 302.0,251.3 307.4,253.5 316.5,257.2 326.3,262.3 334.0,266.3 341.7,270.1 349.4,273.0 355.2,276.0 361.9,278.3 357.1,278.9 357.1,285.8 357.1,291.6 361.0,295.5 365.7,298.5 367.6,304.3 372.5,308.2 374.0,313.1 372.5,317.0 372.5,321.0 369.6,326.7 367.6,332.6 364.8,338.4 361.8,339.5 357.9,343.3 354.1,346.6 352.8,349.9 351.5,355.1 350.9,359.0 350.2,364.2 349.0,368.0 346.4,370.6 341.3,373.2 336.1,373.2 332.3,374.6 328.4,377.2 324.6,381.1 320.8,382.3 317.6,381.7 316.9,375.8 316.3,370.6 314.4,366.1 308.0,366.8 302.9,368.7 299.6,366.8 298.3,363.7 294.7,360.6 289.3,359.2 280.2,360.6 271.2,362.4 267.6,365.5 260.4,369.2 255.0,372.9 245.9,372.0 235.2,372.9 224.4,372.3 213.5,371.0 206.4,368.6 195.5,364.1 184.7,361.3 173.9,359.4 166.6,355.8 159.4,351.2 152.2,345.8 143.2,342.1 134.2,339.4 127.0,334.8 121.6,329.3 112.6,323.8 105.3,318.3 97.2,313.3 93.7,309.9 90.4,304.7 83.6,300.3 78.4,297.7 69.9,299.5 61.3,301.2 54.5,299.5 51.9,296.8 47.6,296.8 39.2,298.9" fill="none" stroke="#2f6fe8" stroke-width="0.9"/>
<rect x="69.65" y="246.46" width="3.4" height="2.49" fill="#f58c30"/><rect x="73.05" y="246.46" width="1.3" height="2.49" fill="#a05012"/><rect x="69.65" y="238.99" width="3.4" height="7.52" fill="#55d655"/><rect x="73.05" y="238.99" width="1.3" height="7.52" fill="#2a852a"/><rect x="69.65" y="234.20" width="3.4" height="4.84" fill="#7787f0"/><rect x="73.05" y="234.20" width="1.3" height="4.84" fill="#3a48a0"/><rect x="69.65" y="233.30" width="4.7" height="1.1" fill="#39449a"/>
<rect x="83.95" y="246.36" width="3.4" height="2.59" fill="#f58c30"/><rect x="87.35" y="246.36" width="1.3" height="2.59" fill="#a05012"/><rect x="83.95" y="239.43" width="3.4" height="6.98" fill="#55d655"/><rect x="87.35" y="239.43" width="1.3" height="6.98" fill="#2a852a"/><rect x="83.95" y="234.90" width="3.4" height="4.58" fill="#7787f0"/><rect x="87.35" y="234.90" width="1.3" height="4.58" fill="#3a48a0"/><rect x="83.95" y="234.00" width="4.7" height="1.1" fill="#39449a"/>
<rect x="98.25" y="246.49" width="3.4" height="2.46" fill="#f58c30"/><rect x="101.65" y="246.49" width="1.3" height="2.46" fill="#a05012"/><rect x="98.25" y="240.47" width="3.4" height="6.07" fill="#55d655"/><rect x="101.65" y="240.47" width="1.3" height="6.07" fill="#2a852a"/><rect x="98.25" y="237.10" width="3.4" height="3.42" fill="#7787f0"/><rect x="101.65" y="237.10" width="1.3" height="3.42" fill="#3a48a0"/><rect x="98.25" y="236.20" width="4.7" height="1.1" fill="#39449a"/>
<rect x="283.35" y="243.92" width="3.4" height="5.03" fill="#f58c30"/><rect x="286.75" y="243.92" width="1.3" height="5.03" fill="#a05012"/><rect x="283.35" y="234.80" width="3.4" height="9.17" fill="#55d655"/><rect x="286.75" y="234.80" width="1.3" height="9.17" fill="#2a852a"/><rect x="283.35" y="229.90" width="3.4" height="4.95" fill="#7787f0"/><rect x="286.75" y="229.90" width="1.3" height="4.95" fill="#3a48a0"/><rect x="283.35" y="229.00" width="4.7" height="1.1" fill="#39449a"/>
<rect x="297.65" y="243.38" width="3.4" height="5.57" fill="#f58c30"/><rect x="301.05" y="243.38" width="1.3" height="5.57" fill="#a05012"/><rect x="297.65" y="233.69" width="3.4" height="9.74" fill="#55d655"/><rect x="301.05" y="233.69" width="1.3" height="9.74" fill="#2a852a"/><rect x="297.65" y="229.50" width="3.4" height="4.24" fill="#7787f0"/><rect x="301.05" y="229.50" width="1.3" height="4.24" fill="#3a48a0"/><rect x="297.65" y="228.60" width="4.7" height="1.1" fill="#39449a"/>
<rect x="311.65" y="242.32" width="3.4" height="6.63" fill="#f58c30"/><rect x="315.05" y="242.32" width="1.3" height="6.63" fill="#a05012"/><rect x="311.65" y="233.70" width="3.4" height="8.67" fill="#55d655"/><rect x="315.05" y="233.70" width="1.3" height="8.67" fill="#2a852a"/><rect x="311.65" y="229.30" width="3.4" height="4.45" fill="#7787f0"/><rect x="315.05" y="229.30" width="1.3" height="4.45" fill="#3a48a0"/><rect x="311.65" y="228.40" width="4.7" height="1.1" fill="#39449a"/>
<rect x="51.55" y="258.64" width="3.4" height="2.71" fill="#f58c30"/><rect x="54.95" y="258.64" width="1.3" height="2.71" fill="#a05012"/><rect x="51.55" y="252.04" width="3.4" height="6.65" fill="#55d655"/><rect x="54.95" y="252.04" width="1.3" height="6.65" fill="#2a852a"/><rect x="51.55" y="247.50" width="3.4" height="4.59" fill="#7787f0"/><rect x="54.95" y="247.50" width="1.3" height="4.59" fill="#3a48a0"/><rect x="51.55" y="246.60" width="4.7" height="1.1" fill="#39449a"/>
<rect x="65.45" y="259.38" width="3.4" height="1.97" fill="#f58c30"/><rect x="68.85" y="259.38" width="1.3" height="1.97" fill="#a05012"/><rect x="65.45" y="254.20" width="3.4" height="5.23" fill="#55d655"/><rect x="68.85" y="254.20" width="1.3" height="5.23" fill="#2a852a"/><rect x="65.45" y="251.10" width="3.4" height="3.15" fill="#7787f0"/><rect x="68.85" y="251.10" width="1.3" height="3.15" fill="#3a48a0"/><rect x="65.45" y="250.20" width="4.7" height="1.1" fill="#39449a"/>
<rect x="79.75" y="258.98" width="3.4" height="2.37" fill="#f58c30"/><rect x="83.15" y="258.98" width="1.3" height="2.37" fill="#a05012"/><rect x="79.75" y="253.46" width="3.4" height="5.57" fill="#55d655"/><rect x="83.15" y="253.46" width="1.3" height="5.57" fill="#2a852a"/><rect x="79.75" y="249.40" width="3.4" height="4.11" fill="#7787f0"/><rect x="83.15" y="249.40" width="1.3" height="4.11" fill="#3a48a0"/><rect x="79.75" y="248.50" width="4.7" height="1.1" fill="#39449a"/>
<rect x="93.95" y="258.97" width="3.4" height="2.38" fill="#f58c30"/><rect x="97.35" y="258.97" width="1.3" height="2.38" fill="#a05012"/><rect x="93.95" y="253.30" width="3.4" height="5.72" fill="#55d655"/><rect x="97.35" y="253.30" width="1.3" height="5.72" fill="#2a852a"/><rect x="93.95" y="249.40" width="3.4" height="3.95" fill="#7787f0"/><rect x="97.35" y="249.40" width="1.3" height="3.95" fill="#3a48a0"/><rect x="93.95" y="248.50" width="4.7" height="1.1" fill="#39449a"/>
<rect x="108.55" y="258.46" width="3.4" height="2.89" fill="#f58c30"/><rect x="111.95" y="258.46" width="1.3" height="2.89" fill="#a05012"/><rect x="108.55" y="251.67" width="3.4" height="6.84" fill="#55d655"/><rect x="111.95" y="251.67" width="1.3" height="6.84" fill="#2a852a"/><rect x="108.55" y="247.90" width="3.4" height="3.82" fill="#7787f0"/><rect x="111.95" y="247.90" width="1.3" height="3.82" fill="#3a48a0"/><rect x="108.55" y="247.00" width="4.7" height="1.1" fill="#39449a"/>
<rect x="122.45" y="259.15" width="3.4" height="2.20" fill="#f58c30"/><rect x="125.85" y="259.15" width="1.3" height="2.20" fill="#a05012"/><rect x="122.45" y="254.65" width="3.4" height="4.54" fill="#55d655"/><rect x="125.85" y="254.65" width="1.3" height="4.54" fill="#2a852a"/><rect x="122.45" y="251.70" width="3.4" height="3.00" fill="#7787f0"/><rect x="125.85" y="251.70" width="1.3" height="3.00" fill="#3a48a0"/><rect x="122.45" y="250.80" width="4.7" height="1.1" fill="#39449a"/>
<rect x="207.95" y="257.57" width="3.4" height="3.78" fill="#f58c30"/><rect x="211.35" y="257.57" width="1.3" height="3.78" fill="#a05012"/><rect x="207.95" y="249.52" width="3.4" height="8.10" fill="#55d655"/><rect x="211.35" y="249.52" width="1.3" height="8.10" fill="#2a852a"/><rect x="207.95" y="245.80" width="3.4" height="3.77" fill="#7787f0"/><rect x="211.35" y="245.80" width="1.3" height="3.77" fill="#3a48a0"/><rect x="207.95" y="244.90" width="4.7" height="1.1" fill="#39449a"/>
<rect x="222.25" y="256.65" width="3.4" height="4.70" fill="#f58c30"/><rect x="225.65" y="256.65" width="1.3" height="4.70" fill="#a05012"/><rect x="222.25" y="249.10" width="3.4" height="7.60" fill="#55d655"/><rect x="225.65" y="249.10" width="1.3" height="7.60" fill="#2a852a"/><rect x="222.25" y="244.80" width="3.4" height="4.35" fill="#7787f0"/><rect x="225.65" y="244.80" width="1.3" height="4.35" fill="#3a48a0"/><rect x="222.25" y="243.90" width="4.7" height="1.1" fill="#39449a"/>
<rect x="236.55" y="257.20" width="3.4" height="4.15" fill="#f58c30"/><rect x="239.95" y="257.20" width="1.3" height="4.15" fill="#a05012"/><rect x="236.55" y="250.78" width="3.4" height="6.48" fill="#55d655"/><rect x="239.95" y="250.78" width="1.3" height="6.48" fill="#2a852a"/><rect x="236.55" y="246.70" width="3.4" height="4.13" fill="#7787f0"/><rect x="239.95" y="246.70" width="1.3" height="4.13" fill="#3a48a0"/><rect x="236.55" y="245.80" width="4.7" height="1.1" fill="#39449a"/>
<rect x="250.85" y="256.44" width="3.4" height="4.91" fill="#f58c30"/><rect x="254.25" y="256.44" width="1.3" height="4.91" fill="#a05012"/><rect x="250.85" y="249.06" width="3.4" height="7.42" fill="#55d655"/><rect x="254.25" y="249.06" width="1.3" height="7.42" fill="#2a852a"/><rect x="250.85" y="244.40" width="3.4" height="4.71" fill="#7787f0"/><rect x="254.25" y="244.40" width="1.3" height="4.71" fill="#3a48a0"/><rect x="250.85" y="243.50" width="4.7" height="1.1" fill="#39449a"/>
<rect x="264.75" y="256.50" width="3.4" height="4.85" fill="#f58c30"/><rect x="268.15" y="256.50" width="1.3" height="4.85" fill="#a05012"/><rect x="264.75" y="248.48" width="3.4" height="8.07" fill="#55d655"/><rect x="268.15" y="248.48" width="1.3" height="8.07" fill="#2a852a"/><rect x="264.75" y="243.90" width="3.4" height="4.63" fill="#7787f0"/><rect x="268.15" y="243.90" width="1.3" height="4.63" fill="#3a48a0"/><rect x="264.75" y="243.00" width="4.7" height="1.1" fill="#39449a"/>
<rect x="278.95" y="255.95" width="3.4" height="5.40" fill="#f58c30"/><rect x="282.35" y="255.95" width="1.3" height="5.40" fill="#a05012"/><rect x="278.95" y="247.57" width="3.4" height="8.44" fill="#55d655"/><rect x="282.35" y="247.57" width="1.3" height="8.44" fill="#2a852a"/><rect x="278.95" y="242.60" width="3.4" height="5.02" fill="#7787f0"/><rect x="282.35" y="242.60" width="1.3" height="5.02" fill="#3a48a0"/><rect x="278.95" y="241.70" width="4.7" height="1.1" fill="#39449a"/>
<rect x="293.25" y="255.36" width="3.4" height="5.99" fill="#f58c30"/><rect x="296.65" y="255.36" width="1.3" height="5.99" fill="#a05012"/><rect x="293.25" y="246.60" width="3.4" height="8.81" fill="#55d655"/><rect x="296.65" y="246.60" width="1.3" height="8.81" fill="#2a852a"/><rect x="293.25" y="242.70" width="3.4" height="3.95" fill="#7787f0"/><rect x="296.65" y="242.70" width="1.3" height="3.95" fill="#3a48a0"/><rect x="293.25" y="241.80" width="4.7" height="1.1" fill="#39449a"/>
<rect x="307.65" y="257.12" width="3.4" height="4.23" fill="#f58c30"/><rect x="311.05" y="257.12" width="1.3" height="4.23" fill="#a05012"/><rect x="307.65" y="249.62" width="3.4" height="7.55" fill="#55d655"/><rect x="311.05" y="249.62" width="1.3" height="7.55" fill="#2a852a"/><rect x="307.65" y="246.50" width="3.4" height="3.17" fill="#7787f0"/><rect x="311.05" y="246.50" width="1.3" height="3.17" fill="#3a48a0"/><rect x="307.65" y="245.60" width="4.7" height="1.1" fill="#39449a"/>
<rect x="321.95" y="256.92" width="3.4" height="4.43" fill="#f58c30"/><rect x="325.35" y="256.92" width="1.3" height="4.43" fill="#a05012"/><rect x="321.95" y="251.22" width="3.4" height="5.76" fill="#55d655"/><rect x="325.35" y="251.22" width="1.3" height="5.76" fill="#2a852a"/><rect x="321.95" y="248.40" width="3.4" height="2.87" fill="#7787f0"/><rect x="325.35" y="248.40" width="1.3" height="2.87" fill="#3a48a0"/><rect x="321.95" y="247.50" width="4.7" height="1.1" fill="#39449a"/>
<rect x="336.25" y="255.10" width="3.4" height="6.25" fill="#f58c30"/><rect x="339.65" y="255.10" width="1.3" height="6.25" fill="#a05012"/><rect x="336.25" y="246.19" width="3.4" height="8.96" fill="#55d655"/><rect x="339.65" y="246.19" width="1.3" height="8.96" fill="#2a852a"/><rect x="336.25" y="242.30" width="3.4" height="3.94" fill="#7787f0"/><rect x="339.65" y="242.30" width="1.3" height="3.94" fill="#3a48a0"/><rect x="336.25" y="241.40" width="4.7" height="1.1" fill="#39449a"/>
<rect x="47.35" y="272.17" width="3.4" height="2.88" fill="#f58c30"/><rect x="50.75" y="272.17" width="1.3" height="2.88" fill="#a05012"/><rect x="47.35" y="263.80" width="3.4" height="8.42" fill="#55d655"/><rect x="50.75" y="263.80" width="1.3" height="8.42" fill="#2a852a"/><rect x="47.35" y="258.40" width="3.4" height="5.45" fill="#7787f0"/><rect x="50.75" y="258.40" width="1.3" height="5.45" fill="#3a48a0"/><rect x="47.35" y="257.50" width="4.7" height="1.1" fill="#39449a"/>
<rect x="61.65" y="272.52" width="3.4" height="2.53" fill="#f58c30"/><rect x="65.05" y="272.52" width="1.3" height="2.53" fill="#a05012"/><rect x="61.65" y="265.17" width="3.4" height="7.40" fill="#55d655"/><rect x="65.05" y="265.17" width="1.3" height="7.40" fill="#2a852a"/><rect x="61.65" y="260.30" width="3.4" height="4.92" fill="#7787f0"/><rect x="65.05" y="260.30" width="1.3" height="4.92" fill="#3a48a0"/><rect x="61.65" y="259.40" width="4.7" height="1.1" fill="#39449a"/>
<rect x="75.75" y="272.40" width="3.4" height="2.65" fill="#f58c30"/><rect x="79.15" y="272.40" width="1.3" height="2.65" fill="#a05012"/><rect x="75.75" y="266.03" width="3.4" height="6.42" fill="#55d655"/><rect x="79.15" y="266.03" width="1.3" height="6.42" fill="#2a852a"/><rect x="75.75" y="261.30" width="3.4" height="4.78" fill="#7787f0"/><rect x="79.15" y="261.30" width="1.3" height="4.78" fill="#3a48a0"/><rect x="75.75" y="260.40" width="4.7" height="1.1" fill="#39449a"/>
<rect x="90.05" y="272.22" width="3.4" height="2.83" fill="#f58c30"/><rect x="93.45" y="272.22" width="1.3" height="2.83" fill="#a05012"/><rect x="90.05" y="265.97" width="3.4" height="6.30" fill="#55d655"/><rect x="93.45" y="265.97" width="1.3" height="6.30" fill="#2a852a"/><rect x="90.05" y="261.30" width="3.4" height="4.72" fill="#7787f0"/><rect x="93.45" y="261.30" width="1.3" height="4.72" fill="#3a48a0"/><rect x="90.05" y="260.40" width="4.7" height="1.1" fill="#39449a"/>
<rect x="104.45" y="272.22" width="3.4" height="2.83" fill="#f58c30"/><rect x="107.85" y="272.22" width="1.3" height="2.83" fill="#a05012"/><rect x="104.45" y="266.67" width="3.4" height="5.60" fill="#55d655"/><rect x="107.85" y="266.67" width="1.3" height="5.60" fill="#2a852a"/><rect x="104.45" y="262.40" width="3.4" height="4.32" fill="#7787f0"/><rect x="107.85" y="262.40" width="1.3" height="4.32" fill="#3a48a0"/><rect x="104.45" y="261.50" width="4.7" height="1.1" fill="#39449a"/>
<rect x="118.25" y="271.81" width="3.4" height="3.24" fill="#f58c30"/><rect x="121.65" y="271.81" width="1.3" height="3.24" fill="#a05012"/><rect x="118.25" y="264.47" width="3.4" height="7.39" fill="#55d655"/><rect x="121.65" y="264.47" width="1.3" height="7.39" fill="#2a852a"/><rect x="118.25" y="260.30" width="3.4" height="4.22" fill="#7787f0"/><rect x="121.65" y="260.30" width="1.3" height="4.22" fill="#3a48a0"/><rect x="118.25" y="259.40" width="4.7" height="1.1" fill="#39449a"/>
<rect x="132.55" y="271.68" width="3.4" height="3.37" fill="#f58c30"/><rect x="135.95" y="271.68" width="1.3" height="3.37" fill="#a05012"/><rect x="132.55" y="265.50" width="3.4" height="6.23" fill="#55d655"/><rect x="135.95" y="265.50" width="1.3" height="6.23" fill="#2a852a"/><rect x="132.55" y="260.90" width="3.4" height="4.65" fill="#7787f0"/><rect x="135.95" y="260.90" width="1.3" height="4.65" fill="#3a48a0"/><rect x="132.55" y="260.00" width="4.7" height="1.1" fill="#39449a"/>
<rect x="146.85" y="272.00" width="3.4" height="3.05" fill="#f58c30"/><rect x="150.25" y="272.00" width="1.3" height="3.05" fill="#a05012"/><rect x="146.85" y="266.42" width="3.4" height="5.64" fill="#55d655"/><rect x="150.25" y="266.42" width="1.3" height="5.64" fill="#2a852a"/><rect x="146.85" y="262.80" width="3.4" height="3.67" fill="#7787f0"/><rect x="150.25" y="262.80" width="1.3" height="3.67" fill="#3a48a0"/><rect x="146.85" y="261.90" width="4.7" height="1.1" fill="#39449a"/>
<rect x="161.15" y="271.45" width="3.4" height="3.60" fill="#f58c30"/><rect x="164.55" y="271.45" width="1.3" height="3.60" fill="#a05012"/><rect x="161.15" y="264.26" width="3.4" height="7.24" fill="#55d655"/><rect x="164.55" y="264.26" width="1.3" height="7.24" fill="#2a852a"/><rect x="161.15" y="260.30" width="3.4" height="4.01" fill="#7787f0"/><rect x="164.55" y="260.30" width="1.3" height="4.01" fill="#3a48a0"/><rect x="161.15" y="259.40" width="4.7" height="1.1" fill="#39449a"/>
<rect x="175.35" y="271.24" width="3.4" height="3.81" fill="#f58c30"/><rect x="178.75" y="271.24" width="1.3" height="3.81" fill="#a05012"/><rect x="175.35" y="264.49" width="3.4" height="6.79" fill="#55d655"/><rect x="178.75" y="264.49" width="1.3" height="6.79" fill="#2a852a"/><rect x="175.35" y="260.30" width="3.4" height="4.24" fill="#7787f0"/><rect x="178.75" y="260.30" width="1.3" height="4.24" fill="#3a48a0"/><rect x="175.35" y="259.40" width="4.7" height="1.1" fill="#39449a"/>
<rect x="189.65" y="271.61" width="3.4" height="3.44" fill="#f58c30"/><rect x="193.05" y="271.61" width="1.3" height="3.44" fill="#a05012"/><rect x="189.65" y="263.96" width="3.4" height="7.70" fill="#55d655"/><rect x="193.05" y="263.96" width="1.3" height="7.70" fill="#2a852a"/><rect x="189.65" y="260.30" width="3.4" height="3.71" fill="#7787f0"/><rect x="193.05" y="260.30" width="1.3" height="3.71" fill="#3a48a0"/><rect x="189.65" y="259.40" width="4.7" height="1.1" fill="#39449a"/>
<rect x="203.75" y="270.16" width="3.4" height="4.89" fill="#f58c30"/><rect x="207.15" y="270.16" width="1.3" height="4.89" fill="#a05012"/><rect x="203.75" y="262.52" width="3.4" height="7.69" fill="#55d655"/><rect x="207.15" y="262.52" width="1.3" height="7.69" fill="#2a852a"/><rect x="203.75" y="257.20" width="3.4" height="5.37" fill="#7787f0"/><rect x="207.15" y="257.20" width="1.3" height="5.37" fill="#3a48a0"/><rect x="203.75" y="256.30" width="4.7" height="1.1" fill="#39449a"/>
<rect x="218.05" y="272.32" width="3.4" height="2.73" fill="#f58c30"/><rect x="221.45" y="272.32" width="1.3" height="2.73" fill="#a05012"/><rect x="218.05" y="266.74" width="3.4" height="5.63" fill="#55d655"/><rect x="221.45" y="266.74" width="1.3" height="5.63" fill="#2a852a"/><rect x="218.05" y="263.50" width="3.4" height="3.29" fill="#7787f0"/><rect x="221.45" y="263.50" width="1.3" height="3.29" fill="#3a48a0"/><rect x="218.05" y="262.60" width="4.7" height="1.1" fill="#39449a"/>
<rect x="232.35" y="270.63" width="3.4" height="4.42" fill="#f58c30"/><rect x="235.75" y="270.63" width="1.3" height="4.42" fill="#a05012"/><rect x="232.35" y="262.18" width="3.4" height="8.50" fill="#55d655"/><rect x="235.75" y="262.18" width="1.3" height="8.50" fill="#2a852a"/><rect x="232.35" y="258.20" width="3.4" height="4.03" fill="#7787f0"/><rect x="235.75" y="258.20" width="1.3" height="4.03" fill="#3a48a0"/><rect x="232.35" y="257.30" width="4.7" height="1.1" fill="#39449a"/>
<rect x="246.65" y="271.72" width="3.4" height="3.33" fill="#f58c30"/><rect x="250.05" y="271.72" width="1.3" height="3.33" fill="#a05012"/><rect x="246.65" y="265.78" width="3.4" height="5.99" fill="#55d655"/><rect x="250.05" y="265.78" width="1.3" height="5.99" fill="#2a852a"/><rect x="246.65" y="262.40" width="3.4" height="3.43" fill="#7787f0"/><rect x="250.05" y="262.40" width="1.3" height="3.43" fill="#3a48a0"/><rect x="246.65" y="261.50" width="4.7" height="1.1" fill="#39449a"/>
<rect x="260.75" y="269.35" width="3.4" height="5.70" fill="#f58c30"/><rect x="264.15" y="269.35" width="1.3" height="5.70" fill="#a05012"/><rect x="260.75" y="260.40" width="3.4" height="9.00" fill="#55d655"/><rect x="264.15" y="260.40" width="1.3" height="9.00" fill="#2a852a"/><rect x="260.75" y="256.30" width="3.4" height="4.15" fill="#7787f0"/><rect x="264.15" y="256.30" width="1.3" height="4.15" fill="#3a48a0"/><rect x="260.75" y="255.40" width="4.7" height="1.1" fill="#39449a"/>
<rect x="275.05" y="269.38" width="3.4" height="5.67" fill="#f58c30"/><rect x="278.45" y="269.38" width="1.3" height="5.67" fill="#a05012"/><rect x="275.05" y="259.98" width="3.4" height="9.45" fill="#55d655"/><rect x="278.45" y="259.98" width="1.3" height="9.45" fill="#2a852a"/><rect x="275.05" y="255.90" width="3.4" height="4.13" fill="#7787f0"/><rect x="278.45" y="255.90" width="1.3" height="4.13" fill="#3a48a0"/><rect x="275.05" y="255.00" width="4.7" height="1.1" fill="#39449a"/>
<rect x="289.45" y="269.43" width="3.4" height="5.62" fill="#f58c30"/><rect x="292.85" y="269.43" width="1.3" height="5.62" fill="#a05012"/><rect x="289.45" y="260.97" width="3.4" height="8.50" fill="#55d655"/><rect x="292.85" y="260.97" width="1.3" height="8.50" fill="#2a852a"/><rect x="289.45" y="256.90" width="3.4" height="4.12" fill="#7787f0"/><rect x="292.85" y="256.90" width="1.3" height="4.12" fill="#3a48a0"/><rect x="289.45" y="256.00" width="4.7" height="1.1" fill="#39449a"/>
<rect x="303.45" y="269.29" width="3.4" height="5.76" fill="#f58c30"/><rect x="306.85" y="269.29" width="1.3" height="5.76" fill="#a05012"/><rect x="303.45" y="261.95" width="3.4" height="7.39" fill="#55d655"/><rect x="306.85" y="261.95" width="1.3" height="7.39" fill="#2a852a"/><rect x="303.45" y="257.40" width="3.4" height="4.60" fill="#7787f0"/><rect x="306.85" y="257.40" width="1.3" height="4.60" fill="#3a48a0"/><rect x="303.45" y="256.50" width="4.7" height="1.1" fill="#39449a"/>
<rect x="317.75" y="269.71" width="3.4" height="5.34" fill="#f58c30"/><rect x="321.15" y="269.71" width="1.3" height="5.34" fill="#a05012"/><rect x="317.75" y="262.24" width="3.4" height="7.52" fill="#55d655"/><rect x="321.15" y="262.24" width="1.3" height="7.52" fill="#2a852a"/><rect x="317.75" y="257.90" width="3.4" height="4.39" fill="#7787f0"/><rect x="321.15" y="257.90" width="1.3" height="4.39" fill="#3a48a0"/><rect x="317.75" y="257.00" width="4.7" height="1.1" fill="#39449a"/>
<rect x="332.05" y="269.97" width="3.4" height="5.08" fill="#f58c30"/><rect x="335.45" y="269.97" width="1.3" height="5.08" fill="#a05012"/><rect x="332.05" y="261.68" width="3.4" height="8.33" fill="#55d655"/><rect x="335.45" y="261.68" width="1.3" height="8.33" fill="#2a852a"/><rect x="332.05" y="258.50" width="3.4" height="3.23" fill="#7787f0"/><rect x="335.45" y="258.50" width="1.3" height="3.23" fill="#3a48a0"/><rect x="332.05" y="257.60" width="4.7" height="1.1" fill="#39449a"/>
<rect x="346.35" y="270.45" width="3.4" height="4.60" fill="#f58c30"/><rect x="349.75" y="270.45" width="1.3" height="4.60" fill="#a05012"/><rect x="346.35" y="263.74" width="3.4" height="6.75" fill="#55d655"/><rect x="349.75" y="263.74" width="1.3" height="6.75" fill="#2a852a"/><rect x="346.35" y="261.20" width="3.4" height="2.59" fill="#7787f0"/><rect x="349.75" y="261.20" width="1.3" height="2.59" fill="#3a48a0"/><rect x="346.35" y="260.30" width="4.7" height="1.1" fill="#39449a"/>
<rect x="360.25" y="269.49" width="3.4" height="5.56" fill="#f58c30"/><rect x="363.65" y="269.49" width="1.3" height="5.56" fill="#a05012"/><rect x="360.25" y="260.95" width="3.4" height="8.60" fill="#55d655"/><rect x="363.65" y="260.95" width="1.3" height="8.60" fill="#2a852a"/><rect x="360.25" y="257.40" width="3.4" height="3.60" fill="#7787f0"/><rect x="363.65" y="257.40" width="1.3" height="3.60" fill="#3a48a0"/><rect x="360.25" y="256.50" width="4.7" height="1.1" fill="#39449a"/>
<rect x="29.25" y="285.05" width="3.4" height="3.00" fill="#f58c30"/><rect x="32.65" y="285.05" width="1.3" height="3.00" fill="#a05012"/><rect x="29.25" y="276.01" width="3.4" height="9.09" fill="#55d655"/><rect x="32.65" y="276.01" width="1.3" height="9.09" fill="#2a852a"/><rect x="29.25" y="270.40" width="3.4" height="5.66" fill="#7787f0"/><rect x="32.65" y="270.40" width="1.3" height="5.66" fill="#3a48a0"/><rect x="29.25" y="269.50" width="4.7" height="1.1" fill="#39449a"/>
<rect x="43.35" y="285.53" width="3.4" height="2.52" fill="#f58c30"/><rect x="46.75" y="285.53" width="1.3" height="2.52" fill="#a05012"/><rect x="43.35" y="276.66" width="3.4" height="8.91" fill="#55d655"/><rect x="46.75" y="276.66" width="1.3" height="8.91" fill="#2a852a"/><rect x="43.35" y="270.40" width="3.4" height="6.31" fill="#7787f0"/><rect x="46.75" y="270.40" width="1.3" height="6.31" fill="#3a48a0"/><rect x="43.35" y="269.50" width="4.7" height="1.1" fill="#39449a"/>
<rect x="57.65" y="285.49" width="3.4" height="2.56" fill="#f58c30"/><rect x="61.05" y="285.49" width="1.3" height="2.56" fill="#a05012"/><rect x="57.65" y="278.14" width="3.4" height="7.40" fill="#55d655"/><rect x="61.05" y="278.14" width="1.3" height="7.40" fill="#2a852a"/><rect x="57.65" y="272.70" width="3.4" height="5.49" fill="#7787f0"/><rect x="61.05" y="272.70" width="1.3" height="5.49" fill="#3a48a0"/><rect x="57.65" y="271.80" width="4.7" height="1.1" fill="#39449a"/>
<rect x="71.95" y="284.84" width="3.4" height="3.21" fill="#f58c30"/><rect x="75.35" y="284.84" width="1.3" height="3.21" fill="#a05012"/><rect x="71.95" y="277.52" width="3.4" height="7.37" fill="#55d655"/><rect x="75.35" y="277.52" width="1.3" height="7.37" fill="#2a852a"/><rect x="71.95" y="272.70" width="3.4" height="4.87" fill="#7787f0"/><rect x="75.35" y="272.70" width="1.3" height="4.87" fill="#3a48a0"/><rect x="71.95" y="271.80" width="4.7" height="1.1" fill="#39449a"/>
<rect x="86.05" y="285.92" width="3.4" height="2.13" fill="#f58c30"/><rect x="89.45" y="285.92" width="1.3" height="2.13" fill="#a05012"/><rect x="86.05" y="280.43" width="3.4" height="5.54" fill="#55d655"/><rect x="89.45" y="280.43" width="1.3" height="5.54" fill="#2a852a"/><rect x="86.05" y="276.90" width="3.4" height="3.58" fill="#7787f0"/><rect x="89.45" y="276.90" width="1.3" height="3.58" fill="#3a48a0"/><rect x="86.05" y="276.00" width="4.7" height="1.1" fill="#39449a"/>
<rect x="100.55" y="286.02" width="3.4" height="2.03" fill="#f58c30"/><rect x="103.95" y="286.02" width="1.3" height="2.03" fill="#a05012"/><rect x="100.55" y="281.44" width="3.4" height="4.63" fill="#55d655"/><rect x="103.95" y="281.44" width="1.3" height="4.63" fill="#2a852a"/><rect x="100.55" y="278.40" width="3.4" height="3.09" fill="#7787f0"/><rect x="103.95" y="278.40" width="1.3" height="3.09" fill="#3a48a0"/><rect x="100.55" y="277.50" width="4.7" height="1.1" fill="#39449a"/>
<rect x="114.45" y="285.69" width="3.4" height="2.36" fill="#f58c30"/><rect x="117.85" y="285.69" width="1.3" height="2.36" fill="#a05012"/><rect x="114.45" y="280.37" width="3.4" height="5.37" fill="#55d655"/><rect x="117.85" y="280.37" width="1.3" height="5.37" fill="#2a852a"/><rect x="114.45" y="276.90" width="3.4" height="3.52" fill="#7787f0"/><rect x="117.85" y="276.90" width="1.3" height="3.52" fill="#3a48a0"/><rect x="114.45" y="276.00" width="4.7" height="1.1" fill="#39449a"/>
<rect x="128.75" y="284.90" width="3.4" height="3.15" fill="#f58c30"/><rect x="132.15" y="284.90" width="1.3" height="3.15" fill="#a05012"/><rect x="128.75" y="278.90" width="3.4" height="6.05" fill="#55d655"/><rect x="132.15" y="278.90" width="1.3" height="6.05" fill="#2a852a"/><rect x="128.75" y="275.00" width="3.4" height="3.95" fill="#7787f0"/><rect x="132.15" y="275.00" width="1.3" height="3.95" fill="#3a48a0"/><rect x="128.75" y="274.10" width="4.7" height="1.1" fill="#39449a"/>
<rect x="143.05" y="285.93" width="3.4" height="2.12" fill="#f58c30"/><rect x="146.45" y="285.93" width="1.3" height="2.12" fill="#a05012"/><rect x="143.05" y="281.35" width="3.4" height="4.64" fill="#55d655"/><rect x="146.45" y="281.35" width="1.3" height="4.64" fill="#2a852a"/><rect x="143.05" y="278.40" width="3.4" height="3.00" fill="#7787f0"/><rect x="146.45" y="278.40" width="1.3" height="3.00" fill="#3a48a0"/><rect x="143.05" y="277.50" width="4.7" height="1.1" fill="#39449a"/>
<rect x="157.15" y="285.66" width="3.4" height="2.39" fill="#f58c30"/><rect x="160.55" y="285.66" width="1.3" height="2.39" fill="#a05012"/><rect x="157.15" y="279.97" width="3.4" height="5.74" fill="#55d655"/><rect x="160.55" y="279.97" width="1.3" height="5.74" fill="#2a852a"/><rect x="157.15" y="276.90" width="3.4" height="3.12" fill="#7787f0"/><rect x="160.55" y="276.90" width="1.3" height="3.12" fill="#3a48a0"/><rect x="157.15" y="276.00" width="4.7" height="1.1" fill="#39449a"/>
<rect x="171.65" y="284.48" width="3.4" height="3.57" fill="#f58c30"/><rect x="175.05" y="284.48" width="1.3" height="3.57" fill="#a05012"/><rect x="171.65" y="278.40" width="3.4" height="6.13" fill="#55d655"/><rect x="175.05" y="278.40" width="1.3" height="6.13" fill="#2a852a"/><rect x="171.65" y="274.60" width="3.4" height="3.85" fill="#7787f0"/><rect x="175.05" y="274.60" width="1.3" height="3.85" fill="#3a48a0"/><rect x="171.65" y="273.70" width="4.7" height="1.1" fill="#39449a"/>
<rect x="185.85" y="285.19" width="3.4" height="2.86" fill="#f58c30"/><rect x="189.25" y="285.19" width="1.3" height="2.86" fill="#a05012"/><rect x="185.85" y="279.35" width="3.4" height="5.90" fill="#55d655"/><rect x="189.25" y="279.35" width="1.3" height="5.90" fill="#2a852a"/><rect x="185.85" y="276.50" width="3.4" height="2.90" fill="#7787f0"/><rect x="189.25" y="276.50" width="1.3" height="2.90" fill="#3a48a0"/><rect x="185.85" y="275.60" width="4.7" height="1.1" fill="#39449a"/>
<rect x="199.95" y="285.15" width="3.4" height="2.90" fill="#f58c30"/><rect x="203.35" y="285.15" width="1.3" height="2.90" fill="#a05012"/><rect x="199.95" y="279.53" width="3.4" height="5.67" fill="#55d655"/><rect x="203.35" y="279.53" width="1.3" height="5.67" fill="#2a852a"/><rect x="199.95" y="276.30" width="3.4" height="3.28" fill="#7787f0"/><rect x="203.35" y="276.30" width="1.3" height="3.28" fill="#3a48a0"/><rect x="199.95" y="275.40" width="4.7" height="1.1" fill="#39449a"/>
<rect x="214.25" y="284.68" width="3.4" height="3.37" fill="#f58c30"/><rect x="217.65" y="284.68" width="1.3" height="3.37" fill="#a05012"/><rect x="214.25" y="277.38" width="3.4" height="7.36" fill="#55d655"/><rect x="217.65" y="277.38" width="1.3" height="7.36" fill="#2a852a"/><rect x="214.25" y="273.40" width="3.4" height="4.03" fill="#7787f0"/><rect x="217.65" y="273.40" width="1.3" height="4.03" fill="#3a48a0"/><rect x="214.25" y="272.50" width="4.7" height="1.1" fill="#39449a"/>
<rect x="228.55" y="284.04" width="3.4" height="4.01" fill="#f58c30"/><rect x="231.95" y="284.04" width="1.3" height="4.01" fill="#a05012"/><rect x="228.55" y="276.81" width="3.4" height="7.28" fill="#55d655"/><rect x="231.95" y="276.81" width="1.3" height="7.28" fill="#2a852a"/><rect x="228.55" y="273.40" width="3.4" height="3.46" fill="#7787f0"/><rect x="231.95" y="273.40" width="1.3" height="3.46" fill="#3a48a0"/><rect x="228.55" y="272.50" width="4.7" height="1.1" fill="#39449a"/>
<rect x="242.65" y="284.22" width="3.4" height="3.83" fill="#f58c30"/><rect x="246.05" y="284.22" width="1.3" height="3.83" fill="#a05012"/><rect x="242.65" y="277.83" width="3.4" height="6.44" fill="#55d655"/><rect x="246.05" y="277.83" width="1.3" height="6.44" fill="#2a852a"/><rect x="242.65" y="274.40" width="3.4" height="3.48" fill="#7787f0"/><rect x="246.05" y="274.40" width="1.3" height="3.48" fill="#3a48a0"/><rect x="242.65" y="273.50" width="4.7" height="1.1" fill="#39449a"/>
<rect x="256.95" y="283.53" width="3.4" height="4.52" fill="#f58c30"/><rect x="260.35" y="283.53" width="1.3" height="4.52" fill="#a05012"/><rect x="256.95" y="276.21" width="3.4" height="7.36" fill="#55d655"/><rect x="260.35" y="276.21" width="1.3" height="7.36" fill="#2a852a"/><rect x="256.95" y="272.50" width="3.4" height="3.76" fill="#7787f0"/><rect x="260.35" y="272.50" width="1.3" height="3.76" fill="#3a48a0"/><rect x="256.95" y="271.60" width="4.7" height="1.1" fill="#39449a"/>
<rect x="271.25" y="284.52" width="3.4" height="3.53" fill="#f58c30"/><rect x="274.65" y="284.52" width="1.3" height="3.53" fill="#a05012"/><rect x="271.25" y="279.31" width="3.4" height="5.26" fill="#55d655"/><rect x="274.65" y="279.31" width="1.3" height="5.26" fill="#2a852a"/><rect x="271.25" y="276.30" width="3.4" height="3.06" fill="#7787f0"/><rect x="274.65" y="276.30" width="1.3" height="3.06" fill="#3a48a0"/><rect x="271.25" y="275.40" width="4.7" height="1.1" fill="#39449a"/>
<rect x="285.55" y="285.02" width="3.4" height="3.03" fill="#f58c30"/><rect x="288.95" y="285.02" width="1.3" height="3.03" fill="#a05012"/><rect x="285.55" y="279.08" width="3.4" height="5.99" fill="#55d655"/><rect x="288.95" y="279.08" width="1.3" height="5.99" fill="#2a852a"/><rect x="285.55" y="276.70" width="3.4" height="2.43" fill="#7787f0"/><rect x="288.95" y="276.70" width="1.3" height="2.43" fill="#3a48a0"/><rect x="285.55" y="275.80" width="4.7" height="1.1" fill="#39449a"/>
<rect x="299.55" y="284.00" width="3.4" height="4.05" fill="#f58c30"/><rect x="302.95" y="284.00" width="1.3" height="4.05" fill="#a05012"/><rect x="299.55" y="278.44" width="3.4" height="5.60" fill="#55d655"/><rect x="302.95" y="278.44" width="1.3" height="5.60" fill="#2a852a"/><rect x="299.55" y="275.10" width="3.4" height="3.39" fill="#7787f0"/><rect x="302.95" y="275.10" width="1.3" height="3.39" fill="#3a48a0"/><rect x="299.55" y="274.20" width="4.7" height="1.1" fill="#39449a"/>
<rect x="313.95" y="284.05" width="3.4" height="4.00" fill="#f58c30"/><rect x="317.35" y="284.05" width="1.3" height="4.00" fill="#a05012"/><rect x="313.95" y="277.51" width="3.4" height="6.60" fill="#55d655"/><rect x="317.35" y="277.51" width="1.3" height="6.60" fill="#2a852a"/><rect x="313.95" y="274.50" width="3.4" height="3.06" fill="#7787f0"/><rect x="317.35" y="274.50" width="1.3" height="3.06" fill="#3a48a0"/><rect x="313.95" y="273.60" width="4.7" height="1.1" fill="#39449a"/>
<rect x="328.25" y="282.65" width="3.4" height="5.40" fill="#f58c30"/><rect x="331.65" y="282.65" width="1.3" height="5.40" fill="#a05012"/><rect x="328.25" y="274.79" width="3.4" height="7.91" fill="#55d655"/><rect x="331.65" y="274.79" width="1.3" height="7.91" fill="#2a852a"/><rect x="328.25" y="271.30" width="3.4" height="3.54" fill="#7787f0"/><rect x="331.65" y="271.30" width="1.3" height="3.54" fill="#3a48a0"/><rect x="328.25" y="270.40" width="4.7" height="1.1" fill="#39449a"/>
<rect x="342.55" y="282.76" width="3.4" height="5.29" fill="#f58c30"/><rect x="345.95" y="282.76" width="1.3" height="5.29" fill="#a05012"/><rect x="342.55" y="274.69" width="3.4" height="8.12" fill="#55d655"/><rect x="345.95" y="274.69" width="1.3" height="8.12" fill="#2a852a"/><rect x="342.55" y="271.30" width="3.4" height="3.44" fill="#7787f0"/><rect x="345.95" y="271.30" width="1.3" height="3.44" fill="#3a48a0"/><rect x="342.55" y="270.40" width="4.7" height="1.1" fill="#39449a"/>
<rect x="356.45" y="282.96" width="3.4" height="5.09" fill="#f58c30"/><rect x="359.85" y="282.96" width="1.3" height="5.09" fill="#a05012"/><rect x="356.45" y="275.66" width="3.4" height="7.34" fill="#55d655"/><rect x="359.85" y="275.66" width="1.3" height="7.34" fill="#2a852a"/><rect x="356.45" y="272.30" width="3.4" height="3.41" fill="#7787f0"/><rect x="359.85" y="272.30" width="1.3" height="3.41" fill="#3a48a0"/><rect x="356.45" y="271.40" width="4.7" height="1.1" fill="#39449a"/>
<rect x="25.25" y="298.64" width="3.4" height="2.71" fill="#f58c30"/><rect x="28.65" y="298.64" width="1.3" height="2.71" fill="#a05012"/><rect x="25.25" y="289.24" width="3.4" height="9.46" fill="#55d655"/><rect x="28.65" y="289.24" width="1.3" height="9.46" fill="#2a852a"/><rect x="25.25" y="283.20" width="3.4" height="6.09" fill="#7787f0"/><rect x="28.65" y="283.20" width="1.3" height="6.09" fill="#3a48a0"/><rect x="25.25" y="282.30" width="4.7" height="1.1" fill="#39449a"/>
<rect x="39.55" y="298.00" width="3.4" height="3.35" fill="#f58c30"/><rect x="42.95" y="298.00" width="1.3" height="3.35" fill="#a05012"/><rect x="39.55" y="288.75" width="3.4" height="9.29" fill="#55d655"/><rect x="42.95" y="288.75" width="1.3" height="9.29" fill="#2a852a"/><rect x="39.55" y="283.20" width="3.4" height="5.60" fill="#7787f0"/><rect x="42.95" y="283.20" width="1.3" height="5.60" fill="#3a48a0"/><rect x="39.55" y="282.30" width="4.7" height="1.1" fill="#39449a"/>
<rect x="53.85" y="297.85" width="3.4" height="3.50" fill="#f58c30"/><rect x="57.25" y="297.85" width="1.3" height="3.50" fill="#a05012"/><rect x="53.85" y="288.57" width="3.4" height="9.34" fill="#55d655"/><rect x="57.25" y="288.57" width="1.3" height="9.34" fill="#2a852a"/><rect x="53.85" y="281.90" width="3.4" height="6.72" fill="#7787f0"/><rect x="57.25" y="281.90" width="1.3" height="6.72" fill="#3a48a0"/><rect x="53.85" y="281.00" width="4.7" height="1.1" fill="#39449a"/>
<rect x="68.15" y="298.33" width="3.4" height="3.02" fill="#f58c30"/><rect x="71.55" y="298.33" width="1.3" height="3.02" fill="#a05012"/><rect x="68.15" y="289.18" width="3.4" height="9.21" fill="#55d655"/><rect x="71.55" y="289.18" width="1.3" height="9.21" fill="#2a852a"/><rect x="68.15" y="283.80" width="3.4" height="5.43" fill="#7787f0"/><rect x="71.55" y="283.80" width="1.3" height="5.43" fill="#3a48a0"/><rect x="68.15" y="282.90" width="4.7" height="1.1" fill="#39449a"/>
<rect x="82.25" y="298.35" width="3.4" height="3.00" fill="#f58c30"/><rect x="85.65" y="298.35" width="1.3" height="3.00" fill="#a05012"/><rect x="82.25" y="291.33" width="3.4" height="7.07" fill="#55d655"/><rect x="85.65" y="291.33" width="1.3" height="7.07" fill="#2a852a"/><rect x="82.25" y="287.00" width="3.4" height="4.38" fill="#7787f0"/><rect x="85.65" y="287.00" width="1.3" height="4.38" fill="#3a48a0"/><rect x="82.25" y="286.10" width="4.7" height="1.1" fill="#39449a"/>
<rect x="96.55" y="299.36" width="3.4" height="1.99" fill="#f58c30"/><rect x="99.95" y="299.36" width="1.3" height="1.99" fill="#a05012"/><rect x="96.55" y="293.69" width="3.4" height="5.71" fill="#55d655"/><rect x="99.95" y="293.69" width="1.3" height="5.71" fill="#2a852a"/><rect x="96.55" y="290.30" width="3.4" height="3.44" fill="#7787f0"/><rect x="99.95" y="290.30" width="1.3" height="3.44" fill="#3a48a0"/><rect x="96.55" y="289.40" width="4.7" height="1.1" fill="#39449a"/>
<rect x="110.65" y="298.66" width="3.4" height="2.69" fill="#f58c30"/><rect x="114.05" y="298.66" width="1.3" height="2.69" fill="#a05012"/><rect x="110.65" y="292.48" width="3.4" height="6.23" fill="#55d655"/><rect x="114.05" y="292.48" width="1.3" height="6.23" fill="#2a852a"/><rect x="110.65" y="289.00" width="3.4" height="3.53" fill="#7787f0"/><rect x="114.05" y="289.00" width="1.3" height="3.53" fill="#3a48a0"/><rect x="110.65" y="288.10" width="4.7" height="1.1" fill="#39449a"/>
<rect x="124.95" y="299.03" width="3.4" height="2.32" fill="#f58c30"/><rect x="128.35" y="299.03" width="1.3" height="2.32" fill="#a05012"/><rect x="124.95" y="293.22" width="3.4" height="5.86" fill="#55d655"/><rect x="128.35" y="293.22" width="1.3" height="5.86" fill="#2a852a"/><rect x="124.95" y="289.90" width="3.4" height="3.37" fill="#7787f0"/><rect x="128.35" y="289.90" width="1.3" height="3.37" fill="#3a48a0"/><rect x="124.95" y="289.00" width="4.7" height="1.1" fill="#39449a"/>
<rect x="139.25" y="298.38" width="3.4" height="2.97" fill="#f58c30"/><rect x="142.65" y="298.38" width="1.3" height="2.97" fill="#a05012"/><rect x="139.25" y="292.59" width="3.4" height="5.84" fill="#55d655"/><rect x="142.65" y="292.59" width="1.3" height="5.84" fill="#2a852a"/><rect x="139.25" y="289.00" width="3.4" height="3.64" fill="#7787f0"/><rect x="142.65" y="289.00" width="1.3" height="3.64" fill="#3a48a0"/><rect x="139.25" y="288.10" width="4.7" height="1.1" fill="#39449a"/>
<rect x="153.35" y="298.03" width="3.4" height="3.32" fill="#f58c30"/><rect x="156.75" y="298.03" width="1.3" height="3.32" fill="#a05012"/><rect x="153.35" y="291.59" width="3.4" height="6.49" fill="#55d655"/><rect x="156.75" y="291.59" width="1.3" height="6.49" fill="#2a852a"/><rect x="153.35" y="288.00" width="3.4" height="3.64" fill="#7787f0"/><rect x="156.75" y="288.00" width="1.3" height="3.64" fill="#3a48a0"/><rect x="153.35" y="287.10" width="4.7" height="1.1" fill="#39449a"/>
<rect x="167.65" y="298.57" width="3.4" height="2.78" fill="#f58c30"/><rect x="171.05" y="298.57" width="1.3" height="2.78" fill="#a05012"/><rect x="167.65" y="292.60" width="3.4" height="6.01" fill="#55d655"/><rect x="171.05" y="292.60" width="1.3" height="6.01" fill="#2a852a"/><rect x="167.65" y="289.00" width="3.4" height="3.65" fill="#7787f0"/><rect x="171.05" y="289.00" width="1.3" height="3.65" fill="#3a48a0"/><rect x="167.65" y="288.10" width="4.7" height="1.1" fill="#39449a"/>
<rect x="182.05" y="298.07" width="3.4" height="3.28" fill="#f58c30"/><rect x="185.45" y="298.07" width="1.3" height="3.28" fill="#a05012"/><rect x="182.05" y="292.39" width="3.4" height="5.73" fill="#55d655"/><rect x="185.45" y="292.39" width="1.3" height="5.73" fill="#2a852a"/><rect x="182.05" y="289.00" width="3.4" height="3.44" fill="#7787f0"/><rect x="185.45" y="289.00" width="1.3" height="3.44" fill="#3a48a0"/><rect x="182.05" y="288.10" width="4.7" height="1.1" fill="#39449a"/>
<rect x="195.95" y="298.98" width="3.4" height="2.37" fill="#f58c30"/><rect x="199.35" y="298.98" width="1.3" height="2.37" fill="#a05012"/><rect x="195.95" y="293.72" width="3.4" height="5.30" fill="#55d655"/><rect x="199.35" y="293.72" width="1.3" height="5.30" fill="#2a852a"/><rect x="195.95" y="291.20" width="3.4" height="2.57" fill="#7787f0"/><rect x="199.35" y="291.20" width="1.3" height="2.57" fill="#3a48a0"/><rect x="195.95" y="290.30" width="4.7" height="1.1" fill="#39449a"/>
<rect x="210.35" y="297.59" width="3.4" height="3.76" fill="#f58c30"/><rect x="213.75" y="297.59" width="1.3" height="3.76" fill="#a05012"/><rect x="210.35" y="290.40" width="3.4" height="7.24" fill="#55d655"/><rect x="213.75" y="290.40" width="1.3" height="7.24" fill="#2a852a"/><rect x="210.35" y="286.80" width="3.4" height="3.65" fill="#7787f0"/><rect x="213.75" y="286.80" width="1.3" height="3.65" fill="#3a48a0"/><rect x="210.35" y="285.90" width="4.7" height="1.1" fill="#39449a"/>
<rect x="224.75" y="296.96" width="3.4" height="4.39" fill="#f58c30"/><rect x="228.15" y="296.96" width="1.3" height="4.39" fill="#a05012"/><rect x="224.75" y="290.16" width="3.4" height="6.85" fill="#55d655"/><rect x="228.15" y="290.16" width="1.3" height="6.85" fill="#2a852a"/><rect x="224.75" y="285.80" width="3.4" height="4.41" fill="#7787f0"/><rect x="228.15" y="285.80" width="1.3" height="4.41" fill="#3a48a0"/><rect x="224.75" y="284.90" width="4.7" height="1.1" fill="#39449a"/>
<rect x="239.05" y="297.43" width="3.4" height="3.92" fill="#f58c30"/><rect x="242.45" y="297.43" width="1.3" height="3.92" fill="#a05012"/><rect x="239.05" y="289.55" width="3.4" height="7.93" fill="#55d655"/><rect x="242.45" y="289.55" width="1.3" height="7.93" fill="#2a852a"/><rect x="239.05" y="285.80" width="3.4" height="3.80" fill="#7787f0"/><rect x="242.45" y="285.80" width="1.3" height="3.80" fill="#3a48a0"/><rect x="239.05" y="284.90" width="4.7" height="1.1" fill="#39449a"/>
<rect x="253.35" y="295.91" width="3.4" height="5.44" fill="#f58c30"/><rect x="256.75" y="295.91" width="1.3" height="5.44" fill="#a05012"/><rect x="253.35" y="287.73" width="3.4" height="8.23" fill="#55d655"/><rect x="256.75" y="287.73" width="1.3" height="8.23" fill="#2a852a"/><rect x="253.35" y="283.00" width="3.4" height="4.78" fill="#7787f0"/><rect x="256.75" y="283.00" width="1.3" height="4.78" fill="#3a48a0"/><rect x="253.35" y="282.10" width="4.7" height="1.1" fill="#39449a"/>
<rect x="267.45" y="297.20" width="3.4" height="4.15" fill="#f58c30"/><rect x="270.85" y="297.20" width="1.3" height="4.15" fill="#a05012"/><rect x="267.45" y="290.89" width="3.4" height="6.35" fill="#55d655"/><rect x="270.85" y="290.89" width="1.3" height="6.35" fill="#2a852a"/><rect x="267.45" y="287.70" width="3.4" height="3.24" fill="#7787f0"/><rect x="270.85" y="287.70" width="1.3" height="3.24" fill="#3a48a0"/><rect x="267.45" y="286.80" width="4.7" height="1.1" fill="#39449a"/>
<rect x="281.65" y="297.38" width="3.4" height="3.97" fill="#f58c30"/><rect x="285.05" y="297.38" width="1.3" height="3.97" fill="#a05012"/><rect x="281.65" y="290.00" width="3.4" height="7.43" fill="#55d655"/><rect x="285.05" y="290.00" width="1.3" height="7.43" fill="#2a852a"/><rect x="281.65" y="286.70" width="3.4" height="3.35" fill="#7787f0"/><rect x="285.05" y="286.70" width="1.3" height="3.35" fill="#3a48a0"/><rect x="281.65" y="285.80" width="4.7" height="1.1" fill="#39449a"/>
<rect x="295.75" y="296.82" width="3.4" height="4.53" fill="#f58c30"/><rect x="299.15" y="296.82" width="1.3" height="4.53" fill="#a05012"/><rect x="295.75" y="290.21" width="3.4" height="6.66" fill="#55d655"/><rect x="299.15" y="290.21" width="1.3" height="6.66" fill="#2a852a"/><rect x="295.75" y="287.10" width="3.4" height="3.16" fill="#7787f0"/><rect x="299.15" y="287.10" width="1.3" height="3.16" fill="#3a48a0"/><rect x="295.75" y="286.20" width="4.7" height="1.1" fill="#39449a"/>
<rect x="310.05" y="296.95" width="3.4" height="4.40" fill="#f58c30"/><rect x="313.45" y="296.95" width="1.3" height="4.40" fill="#a05012"/><rect x="310.05" y="289.86" width="3.4" height="7.13" fill="#55d655"/><rect x="313.45" y="289.86" width="1.3" height="7.13" fill="#2a852a"/><rect x="310.05" y="286.60" width="3.4" height="3.31" fill="#7787f0"/><rect x="313.45" y="286.60" width="1.3" height="3.31" fill="#3a48a0"/><rect x="310.05" y="285.70" width="4.7" height="1.1" fill="#39449a"/>
<rect x="324.45" y="297.36" width="3.4" height="3.99" fill="#f58c30"/><rect x="327.85" y="297.36" width="1.3" height="3.99" fill="#a05012"/><rect x="324.45" y="291.26" width="3.4" height="6.15" fill="#55d655"/><rect x="327.85" y="291.26" width="1.3" height="6.15" fill="#2a852a"/><rect x="324.45" y="288.50" width="3.4" height="2.81" fill="#7787f0"/><rect x="327.85" y="288.50" width="1.3" height="2.81" fill="#3a48a0"/><rect x="324.45" y="287.60" width="4.7" height="1.1" fill="#39449a"/>
<rect x="338.35" y="296.02" width="3.4" height="5.33" fill="#f58c30"/><rect x="341.75" y="296.02" width="1.3" height="5.33" fill="#a05012"/><rect x="338.35" y="288.98" width="3.4" height="7.09" fill="#55d655"/><rect x="341.75" y="288.98" width="1.3" height="7.09" fill="#2a852a"/><rect x="338.35" y="286.00" width="3.4" height="3.03" fill="#7787f0"/><rect x="341.75" y="286.00" width="1.3" height="3.03" fill="#3a48a0"/><rect x="338.35" y="285.10" width="4.7" height="1.1" fill="#39449a"/>
<rect x="352.65" y="297.08" width="3.4" height="4.27" fill="#f58c30"/><rect x="356.05" y="297.08" width="1.3" height="4.27" fill="#a05012"/><rect x="352.65" y="290.46" width="3.4" height="6.67" fill="#55d655"/><rect x="356.05" y="290.46" width="1.3" height="6.67" fill="#2a852a"/><rect x="352.65" y="287.10" width="3.4" height="3.41" fill="#7787f0"/><rect x="356.05" y="287.10" width="1.3" height="3.41" fill="#3a48a0"/><rect x="352.65" y="286.20" width="4.7" height="1.1" fill="#39449a"/>
<rect x="367.05" y="296.58" width="3.4" height="4.77" fill="#f58c30"/><rect x="370.45" y="296.58" width="1.3" height="4.77" fill="#a05012"/><rect x="367.05" y="291.18" width="3.4" height="5.45" fill="#55d655"/><rect x="370.45" y="291.18" width="1.3" height="5.45" fill="#2a852a"/><rect x="367.05" y="288.10" width="3.4" height="3.13" fill="#7787f0"/><rect x="370.45" y="288.10" width="1.3" height="3.13" fill="#3a48a0"/><rect x="367.05" y="287.20" width="4.7" height="1.1" fill="#39449a"/>
<rect x="92.85" y="311.76" width="3.4" height="2.69" fill="#f58c30"/><rect x="96.25" y="311.76" width="1.3" height="2.69" fill="#a05012"/><rect x="92.85" y="305.24" width="3.4" height="6.58" fill="#55d655"/><rect x="96.25" y="305.24" width="1.3" height="6.58" fill="#2a852a"/><rect x="92.85" y="300.50" width="3.4" height="4.79" fill="#7787f0"/><rect x="96.25" y="300.50" width="1.3" height="4.79" fill="#3a48a0"/><rect x="92.85" y="299.60" width="4.7" height="1.1" fill="#39449a"/>
<rect x="107.15" y="311.48" width="3.4" height="2.97" fill="#f58c30"/><rect x="110.55" y="311.48" width="1.3" height="2.97" fill="#a05012"/><rect x="107.15" y="305.26" width="3.4" height="6.27" fill="#55d655"/><rect x="110.55" y="305.26" width="1.3" height="6.27" fill="#2a852a"/><rect x="107.15" y="301.50" width="3.4" height="3.81" fill="#7787f0"/><rect x="110.55" y="301.50" width="1.3" height="3.81" fill="#3a48a0"/><rect x="107.15" y="300.60" width="4.7" height="1.1" fill="#39449a"/>
<rect x="121.45" y="311.30" width="3.4" height="3.15" fill="#f58c30"/><rect x="124.85" y="311.30" width="1.3" height="3.15" fill="#a05012"/><rect x="121.45" y="304.99" width="3.4" height="6.37" fill="#55d655"/><rect x="124.85" y="304.99" width="1.3" height="6.37" fill="#2a852a"/><rect x="121.45" y="300.50" width="3.4" height="4.54" fill="#7787f0"/><rect x="124.85" y="300.50" width="1.3" height="4.54" fill="#3a48a0"/><rect x="121.45" y="299.60" width="4.7" height="1.1" fill="#39449a"/>
<rect x="135.75" y="311.15" width="3.4" height="3.30" fill="#f58c30"/><rect x="139.15" y="311.15" width="1.3" height="3.30" fill="#a05012"/><rect x="135.75" y="304.29" width="3.4" height="6.91" fill="#55d655"/><rect x="139.15" y="304.29" width="1.3" height="6.91" fill="#2a852a"/><rect x="135.75" y="300.00" width="3.4" height="4.34" fill="#7787f0"/><rect x="139.15" y="300.00" width="1.3" height="4.34" fill="#3a48a0"/><rect x="135.75" y="299.10" width="4.7" height="1.1" fill="#39449a"/>
<rect x="150.05" y="311.27" width="3.4" height="3.18" fill="#f58c30"/><rect x="153.45" y="311.27" width="1.3" height="3.18" fill="#a05012"/><rect x="150.05" y="303.69" width="3.4" height="7.62" fill="#55d655"/><rect x="153.45" y="303.69" width="1.3" height="7.62" fill="#2a852a"/><rect x="150.05" y="299.50" width="3.4" height="4.24" fill="#7787f0"/><rect x="153.45" y="299.50" width="1.3" height="4.24" fill="#3a48a0"/><rect x="150.05" y="298.60" width="4.7" height="1.1" fill="#39449a"/>
<rect x="164.35" y="311.15" width="3.4" height="3.30" fill="#f58c30"/><rect x="167.75" y="311.15" width="1.3" height="3.30" fill="#a05012"/><rect x="164.35" y="303.14" width="3.4" height="8.06" fill="#55d655"/><rect x="167.75" y="303.14" width="1.3" height="8.06" fill="#2a852a"/><rect x="164.35" y="299.20" width="3.4" height="3.99" fill="#7787f0"/><rect x="167.75" y="299.20" width="1.3" height="3.99" fill="#3a48a0"/><rect x="164.35" y="298.30" width="4.7" height="1.1" fill="#39449a"/>
<rect x="178.65" y="310.90" width="3.4" height="3.55" fill="#f58c30"/><rect x="182.05" y="310.90" width="1.3" height="3.55" fill="#a05012"/><rect x="178.65" y="303.84" width="3.4" height="7.11" fill="#55d655"/><rect x="182.05" y="303.84" width="1.3" height="7.11" fill="#2a852a"/><rect x="178.65" y="300.00" width="3.4" height="3.89" fill="#7787f0"/><rect x="182.05" y="300.00" width="1.3" height="3.89" fill="#3a48a0"/><rect x="178.65" y="299.10" width="4.7" height="1.1" fill="#39449a"/>
<rect x="192.55" y="311.08" width="3.4" height="3.37" fill="#f58c30"/><rect x="195.95" y="311.08" width="1.3" height="3.37" fill="#a05012"/><rect x="192.55" y="304.91" width="3.4" height="6.22" fill="#55d655"/><rect x="195.95" y="304.91" width="1.3" height="6.22" fill="#2a852a"/><rect x="192.55" y="301.80" width="3.4" height="3.16" fill="#7787f0"/><rect x="195.95" y="301.80" width="1.3" height="3.16" fill="#3a48a0"/><rect x="192.55" y="300.90" width="4.7" height="1.1" fill="#39449a"/>
<rect x="206.85" y="311.03" width="3.4" height="3.42" fill="#f58c30"/><rect x="210.25" y="311.03" width="1.3" height="3.42" fill="#a05012"/><rect x="206.85" y="305.62" width="3.4" height="5.46" fill="#55d655"/><rect x="210.25" y="305.62" width="1.3" height="5.46" fill="#2a852a"/><rect x="206.85" y="302.20" width="3.4" height="3.47" fill="#7787f0"/><rect x="210.25" y="302.20" width="1.3" height="3.47" fill="#3a48a0"/><rect x="206.85" y="301.30" width="4.7" height="1.1" fill="#39449a"/>
<rect x="221.15" y="310.41" width="3.4" height="4.04" fill="#f58c30"/><rect x="224.55" y="310.41" width="1.3" height="4.04" fill="#a05012"/><rect x="221.15" y="304.41" width="3.4" height="6.05" fill="#55d655"/><rect x="224.55" y="304.41" width="1.3" height="6.05" fill="#2a852a"/><rect x="221.15" y="300.40" width="3.4" height="4.06" fill="#7787f0"/><rect x="224.55" y="300.40" width="1.3" height="4.06" fill="#3a48a0"/><rect x="221.15" y="299.50" width="4.7" height="1.1" fill="#39449a"/>
<rect x="235.25" y="310.07" width="3.4" height="4.38" fill="#f58c30"/><rect x="238.65" y="310.07" width="1.3" height="4.38" fill="#a05012"/><rect x="235.25" y="303.40" width="3.4" height="6.72" fill="#55d655"/><rect x="238.65" y="303.40" width="1.3" height="6.72" fill="#2a852a"/><rect x="235.25" y="299.50" width="3.4" height="3.95" fill="#7787f0"/><rect x="238.65" y="299.50" width="1.3" height="3.95" fill="#3a48a0"/><rect x="235.25" y="298.60" width="4.7" height="1.1" fill="#39449a"/>
<rect x="249.55" y="311.19" width="3.4" height="3.26" fill="#f58c30"/><rect x="252.95" y="311.19" width="1.3" height="3.26" fill="#a05012"/><rect x="249.55" y="304.78" width="3.4" height="6.46" fill="#55d655"/><rect x="252.95" y="304.78" width="1.3" height="6.46" fill="#2a852a"/><rect x="249.55" y="301.30" width="3.4" height="3.53" fill="#7787f0"/><rect x="252.95" y="301.30" width="1.3" height="3.53" fill="#3a48a0"/><rect x="249.55" y="300.40" width="4.7" height="1.1" fill="#39449a"/>
<rect x="263.55" y="310.50" width="3.4" height="3.95" fill="#f58c30"/><rect x="266.95" y="310.50" width="1.3" height="3.95" fill="#a05012"/><rect x="263.55" y="302.98" width="3.4" height="7.57" fill="#55d655"/><rect x="266.95" y="302.98" width="1.3" height="7.57" fill="#2a852a"/><rect x="263.55" y="299.50" width="3.4" height="3.53" fill="#7787f0"/><rect x="266.95" y="299.50" width="1.3" height="3.53" fill="#3a48a0"/><rect x="263.55" y="298.60" width="4.7" height="1.1" fill="#39449a"/>
<rect x="277.55" y="310.37" width="3.4" height="4.08" fill="#f58c30"/><rect x="280.95" y="310.37" width="1.3" height="4.08" fill="#a05012"/><rect x="277.55" y="304.16" width="3.4" height="6.26" fill="#55d655"/><rect x="280.95" y="304.16" width="1.3" height="6.26" fill="#2a852a"/><rect x="277.55" y="300.90" width="3.4" height="3.31" fill="#7787f0"/><rect x="280.95" y="300.90" width="1.3" height="3.31" fill="#3a48a0"/><rect x="277.55" y="300.00" width="4.7" height="1.1" fill="#39449a"/>
<rect x="291.85" y="310.48" width="3.4" height="3.97" fill="#f58c30"/><rect x="295.25" y="310.48" width="1.3" height="3.97" fill="#a05012"/><rect x="291.85" y="304.42" width="3.4" height="6.11" fill="#55d655"/><rect x="295.25" y="304.42" width="1.3" height="6.11" fill="#2a852a"/><rect x="291.85" y="300.90" width="3.4" height="3.57" fill="#7787f0"/><rect x="295.25" y="300.90" width="1.3" height="3.57" fill="#3a48a0"/><rect x="291.85" y="300.00" width="4.7" height="1.1" fill="#39449a"/>
<rect x="306.15" y="310.34" width="3.4" height="4.11" fill="#f58c30"/><rect x="309.55" y="310.34" width="1.3" height="4.11" fill="#a05012"/><rect x="306.15" y="304.17" width="3.4" height="6.22" fill="#55d655"/><rect x="309.55" y="304.17" width="1.3" height="6.22" fill="#2a852a"/><rect x="306.15" y="301.30" width="3.4" height="2.92" fill="#7787f0"/><rect x="309.55" y="301.30" width="1.3" height="2.92" fill="#3a48a0"/><rect x="306.15" y="300.40" width="4.7" height="1.1" fill="#39449a"/>
<rect x="320.55" y="310.41" width="3.4" height="4.04" fill="#f58c30"/><rect x="323.95" y="310.41" width="1.3" height="4.04" fill="#a05012"/><rect x="320.55" y="304.20" width="3.4" height="6.26" fill="#55d655"/><rect x="323.95" y="304.20" width="1.3" height="6.26" fill="#2a852a"/><rect x="320.55" y="300.90" width="3.4" height="3.35" fill="#7787f0"/><rect x="323.95" y="300.90" width="1.3" height="3.35" fill="#3a48a0"/><rect x="320.55" y="300.00" width="4.7" height="1.1" fill="#39449a"/>
<rect x="334.85" y="310.13" width="3.4" height="4.32" fill="#f58c30"/><rect x="338.25" y="310.13" width="1.3" height="4.32" fill="#a05012"/><rect x="334.85" y="304.06" width="3.4" height="6.12" fill="#55d655"/><rect x="338.25" y="304.06" width="1.3" height="6.12" fill="#2a852a"/><rect x="334.85" y="300.90" width="3.4" height="3.21" fill="#7787f0"/><rect x="338.25" y="300.90" width="1.3" height="3.21" fill="#3a48a0"/><rect x="334.85" y="300.00" width="4.7" height="1.1" fill="#39449a"/>
<rect x="348.85" y="309.69" width="3.4" height="4.76" fill="#f58c30"/><rect x="352.25" y="309.69" width="1.3" height="4.76" fill="#a05012"/><rect x="348.85" y="302.38" width="3.4" height="7.36" fill="#55d655"/><rect x="352.25" y="302.38" width="1.3" height="7.36" fill="#2a852a"/><rect x="348.85" y="299.50" width="3.4" height="2.93" fill="#7787f0"/><rect x="352.25" y="299.50" width="1.3" height="2.93" fill="#3a48a0"/><rect x="348.85" y="298.60" width="4.7" height="1.1" fill="#39449a"/>
<rect x="363.15" y="310.62" width="3.4" height="3.83" fill="#f58c30"/><rect x="366.55" y="310.62" width="1.3" height="3.83" fill="#a05012"/><rect x="363.15" y="305.64" width="3.4" height="5.03" fill="#55d655"/><rect x="366.55" y="305.64" width="1.3" height="5.03" fill="#2a852a"/><rect x="363.15" y="303.10" width="3.4" height="2.59" fill="#7787f0"/><rect x="366.55" y="303.10" width="1.3" height="2.59" fill="#3a48a0"/><rect x="363.15" y="302.20" width="4.7" height="1.1" fill="#39449a"/>
<rect x="377.65" y="311.93" width="3.4" height="2.52" fill="#f58c30"/><rect x="381.05" y="311.93" width="1.3" height="2.52" fill="#a05012"/><rect x="377.65" y="308.37" width="3.4" height="3.61" fill="#55d655"/><rect x="381.05" y="308.37" width="1.3" height="3.61" fill="#2a852a"/><rect x="377.65" y="306.70" width="3.4" height="1.72" fill="#7787f0"/><rect x="381.05" y="306.70" width="1.3" height="1.72" fill="#3a48a0"/><rect x="377.65" y="305.80" width="4.7" height="1.1" fill="#39449a"/>
<rect x="103.25" y="324.36" width="3.4" height="3.19" fill="#f58c30"/><rect x="106.65" y="324.36" width="1.3" height="3.19" fill="#a05012"/><rect x="103.25" y="318.09" width="3.4" height="6.32" fill="#55d655"/><rect x="106.65" y="318.09" width="1.3" height="6.32" fill="#2a852a"/><rect x="103.25" y="313.50" width="3.4" height="4.64" fill="#7787f0"/><rect x="106.65" y="313.50" width="1.3" height="4.64" fill="#3a48a0"/><rect x="103.25" y="312.60" width="4.7" height="1.1" fill="#39449a"/>
<rect x="117.65" y="324.34" width="3.4" height="3.21" fill="#f58c30"/><rect x="121.05" y="324.34" width="1.3" height="3.21" fill="#a05012"/><rect x="117.65" y="317.34" width="3.4" height="7.05" fill="#55d655"/><rect x="121.05" y="317.34" width="1.3" height="7.05" fill="#2a852a"/><rect x="117.65" y="313.50" width="3.4" height="3.89" fill="#7787f0"/><rect x="121.05" y="313.50" width="1.3" height="3.89" fill="#3a48a0"/><rect x="117.65" y="312.60" width="4.7" height="1.1" fill="#39449a"/>
<rect x="131.95" y="324.40" width="3.4" height="3.15" fill="#f58c30"/><rect x="135.35" y="324.40" width="1.3" height="3.15" fill="#a05012"/><rect x="131.95" y="317.98" width="3.4" height="6.47" fill="#55d655"/><rect x="135.35" y="317.98" width="1.3" height="6.47" fill="#2a852a"/><rect x="131.95" y="313.50" width="3.4" height="4.53" fill="#7787f0"/><rect x="135.35" y="313.50" width="1.3" height="4.53" fill="#3a48a0"/><rect x="131.95" y="312.60" width="4.7" height="1.1" fill="#39449a"/>
<rect x="146.25" y="324.78" width="3.4" height="2.77" fill="#f58c30"/><rect x="149.65" y="324.78" width="1.3" height="2.77" fill="#a05012"/><rect x="146.25" y="317.40" width="3.4" height="7.43" fill="#55d655"/><rect x="149.65" y="317.40" width="1.3" height="7.43" fill="#2a852a"/><rect x="146.25" y="313.50" width="3.4" height="3.95" fill="#7787f0"/><rect x="149.65" y="313.50" width="1.3" height="3.95" fill="#3a48a0"/><rect x="146.25" y="312.60" width="4.7" height="1.1" fill="#39449a"/>
<rect x="160.55" y="324.50" width="3.4" height="3.05" fill="#f58c30"/><rect x="163.95" y="324.50" width="1.3" height="3.05" fill="#a05012"/><rect x="160.55" y="317.54" width="3.4" height="7.01" fill="#55d655"/><rect x="163.95" y="317.54" width="1.3" height="7.01" fill="#2a852a"/><rect x="160.55" y="313.50" width="3.4" height="4.09" fill="#7787f0"/><rect x="163.95" y="313.50" width="1.3" height="4.09" fill="#3a48a0"/><rect x="160.55" y="312.60" width="4.7" height="1.1" fill="#39449a"/>
<rect x="174.85" y="324.26" width="3.4" height="3.29" fill="#f58c30"/><rect x="178.25" y="324.26" width="1.3" height="3.29" fill="#a05012"/><rect x="174.85" y="317.41" width="3.4" height="6.90" fill="#55d655"/><rect x="178.25" y="317.41" width="1.3" height="6.90" fill="#2a852a"/><rect x="174.85" y="313.50" width="3.4" height="3.96" fill="#7787f0"/><rect x="178.25" y="313.50" width="1.3" height="3.96" fill="#3a48a0"/><rect x="174.85" y="312.60" width="4.7" height="1.1" fill="#39449a"/>
<rect x="188.75" y="323.97" width="3.4" height="3.58" fill="#f58c30"/><rect x="192.15" y="323.97" width="1.3" height="3.58" fill="#a05012"/><rect x="188.75" y="317.24" width="3.4" height="6.78" fill="#55d655"/><rect x="192.15" y="317.24" width="1.3" height="6.78" fill="#2a852a"/><rect x="188.75" y="313.90" width="3.4" height="3.39" fill="#7787f0"/><rect x="192.15" y="313.90" width="1.3" height="3.39" fill="#3a48a0"/><rect x="188.75" y="313.00" width="4.7" height="1.1" fill="#39449a"/>
<rect x="203.05" y="324.13" width="3.4" height="3.42" fill="#f58c30"/><rect x="206.45" y="324.13" width="1.3" height="3.42" fill="#a05012"/><rect x="203.05" y="316.14" width="3.4" height="8.04" fill="#55d655"/><rect x="206.45" y="316.14" width="1.3" height="8.04" fill="#2a852a"/><rect x="203.05" y="312.40" width="3.4" height="3.79" fill="#7787f0"/><rect x="206.45" y="312.40" width="1.3" height="3.79" fill="#3a48a0"/><rect x="203.05" y="311.50" width="4.7" height="1.1" fill="#39449a"/>
<rect x="217.35" y="323.88" width="3.4" height="3.67" fill="#f58c30"/><rect x="220.75" y="323.88" width="1.3" height="3.67" fill="#a05012"/><rect x="217.35" y="315.77" width="3.4" height="8.16" fill="#55d655"/><rect x="220.75" y="315.77" width="1.3" height="8.16" fill="#2a852a"/><rect x="217.35" y="312.10" width="3.4" height="3.72" fill="#7787f0"/><rect x="220.75" y="312.10" width="1.3" height="3.72" fill="#3a48a0"/><rect x="217.35" y="311.20" width="4.7" height="1.1" fill="#39449a"/>
<rect x="231.65" y="322.72" width="3.4" height="4.83" fill="#f58c30"/><rect x="235.05" y="322.72" width="1.3" height="4.83" fill="#a05012"/><rect x="231.65" y="315.76" width="3.4" height="7.01" fill="#55d655"/><rect x="235.05" y="315.76" width="1.3" height="7.01" fill="#2a852a"/><rect x="231.65" y="311.20" width="3.4" height="4.61" fill="#7787f0"/><rect x="235.05" y="311.20" width="1.3" height="4.61" fill="#3a48a0"/><rect x="231.65" y="310.30" width="4.7" height="1.1" fill="#39449a"/>
<rect x="245.75" y="323.91" width="3.4" height="3.64" fill="#f58c30"/><rect x="249.15" y="323.91" width="1.3" height="3.64" fill="#a05012"/><rect x="245.75" y="316.67" width="3.4" height="7.30" fill="#55d655"/><rect x="249.15" y="316.67" width="1.3" height="7.30" fill="#2a852a"/><rect x="245.75" y="313.00" width="3.4" height="3.72" fill="#7787f0"/><rect x="249.15" y="313.00" width="1.3" height="3.72" fill="#3a48a0"/><rect x="245.75" y="312.10" width="4.7" height="1.1" fill="#39449a"/>
<rect x="260.05" y="323.61" width="3.4" height="3.94" fill="#f58c30"/><rect x="263.45" y="323.61" width="1.3" height="3.94" fill="#a05012"/><rect x="260.05" y="316.42" width="3.4" height="7.24" fill="#55d655"/><rect x="263.45" y="316.42" width="1.3" height="7.24" fill="#2a852a"/><rect x="260.05" y="313.00" width="3.4" height="3.47" fill="#7787f0"/><rect x="263.45" y="313.00" width="1.3" height="3.47" fill="#3a48a0"/><rect x="260.05" y="312.10" width="4.7" height="1.1" fill="#39449a"/>
<rect x="274.45" y="324.05" width="3.4" height="3.50" fill="#f58c30"/><rect x="277.85" y="324.05" width="1.3" height="3.50" fill="#a05012"/><rect x="274.45" y="318.20" width="3.4" height="5.90" fill="#55d655"/><rect x="277.85" y="318.20" width="1.3" height="5.90" fill="#2a852a"/><rect x="274.45" y="315.10" width="3.4" height="3.15" fill="#7787f0"/><rect x="277.85" y="315.10" width="1.3" height="3.15" fill="#3a48a0"/><rect x="274.45" y="314.20" width="4.7" height="1.1" fill="#39449a"/>
<rect x="288.25" y="323.79" width="3.4" height="3.76" fill="#f58c30"/><rect x="291.65" y="323.79" width="1.3" height="3.76" fill="#a05012"/><rect x="288.25" y="317.92" width="3.4" height="5.92" fill="#55d655"/><rect x="291.65" y="317.92" width="1.3" height="5.92" fill="#2a852a"/><rect x="288.25" y="315.10" width="3.4" height="2.87" fill="#7787f0"/><rect x="291.65" y="315.10" width="1.3" height="2.87" fill="#3a48a0"/><rect x="288.25" y="314.20" width="4.7" height="1.1" fill="#39449a"/>
<rect x="302.55" y="324.30" width="3.4" height="3.25" fill="#f58c30"/><rect x="305.95" y="324.30" width="1.3" height="3.25" fill="#a05012"/><rect x="302.55" y="318.68" width="3.4" height="5.67" fill="#55d655"/><rect x="305.95" y="318.68" width="1.3" height="5.67" fill="#2a852a"/><rect x="302.55" y="316.20" width="3.4" height="2.53" fill="#7787f0"/><rect x="305.95" y="316.20" width="1.3" height="2.53" fill="#3a48a0"/><rect x="302.55" y="315.30" width="4.7" height="1.1" fill="#39449a"/>
<rect x="316.85" y="324.12" width="3.4" height="3.43" fill="#f58c30"/><rect x="320.25" y="324.12" width="1.3" height="3.43" fill="#a05012"/><rect x="316.85" y="318.39" width="3.4" height="5.79" fill="#55d655"/><rect x="320.25" y="318.39" width="1.3" height="5.79" fill="#2a852a"/><rect x="316.85" y="315.70" width="3.4" height="2.74" fill="#7787f0"/><rect x="320.25" y="315.70" width="1.3" height="2.74" fill="#3a48a0"/><rect x="316.85" y="314.80" width="4.7" height="1.1" fill="#39449a"/>
<rect x="331.25" y="323.02" width="3.4" height="4.53" fill="#f58c30"/><rect x="334.65" y="323.02" width="1.3" height="4.53" fill="#a05012"/><rect x="331.25" y="316.77" width="3.4" height="6.30" fill="#55d655"/><rect x="334.65" y="316.77" width="1.3" height="6.30" fill="#2a852a"/><rect x="331.25" y="313.90" width="3.4" height="2.92" fill="#7787f0"/><rect x="334.65" y="313.90" width="1.3" height="2.92" fill="#3a48a0"/><rect x="331.25" y="313.00" width="4.7" height="1.1" fill="#39449a"/>
<rect x="345.45" y="323.59" width="3.4" height="3.96" fill="#f58c30"/><rect x="348.85" y="323.59" width="1.3" height="3.96" fill="#a05012"/><rect x="345.45" y="316.94" width="3.4" height="6.71" fill="#55d655"/><rect x="348.85" y="316.94" width="1.3" height="6.71" fill="#2a852a"/><rect x="345.45" y="314.40" width="3.4" height="2.59" fill="#7787f0"/><rect x="348.85" y="314.40" width="1.3" height="2.59" fill="#3a48a0"/><rect x="345.45" y="313.50" width="4.7" height="1.1" fill="#39449a"/>
<rect x="359.65" y="324.27" width="3.4" height="3.28" fill="#f58c30"/><rect x="363.05" y="324.27" width="1.3" height="3.28" fill="#a05012"/><rect x="359.65" y="319.63" width="3.4" height="4.68" fill="#55d655"/><rect x="363.05" y="319.63" width="1.3" height="4.68" fill="#2a852a"/><rect x="359.65" y="317.50" width="3.4" height="2.18" fill="#7787f0"/><rect x="363.05" y="317.50" width="1.3" height="2.18" fill="#3a48a0"/><rect x="359.65" y="316.60" width="4.7" height="1.1" fill="#39449a"/>
<rect x="374.25" y="324.84" width="3.4" height="2.71" fill="#f58c30"/><rect x="377.65" y="324.84" width="1.3" height="2.71" fill="#a05012"/><rect x="374.25" y="321.46" width="3.4" height="3.43" fill="#55d655"/><rect x="377.65" y="321.46" width="1.3" height="3.43" fill="#2a852a"/><rect x="374.25" y="320.00" width="3.4" height="1.51" fill="#7787f0"/><rect x="377.65" y="320.00" width="1.3" height="1.51" fill="#3a48a0"/><rect x="374.25" y="319.10" width="4.7" height="1.1" fill="#39449a"/>
<rect x="128.25" y="337.54" width="3.4" height="3.11" fill="#f58c30"/><rect x="131.65" y="337.54" width="1.3" height="3.11" fill="#a05012"/><rect x="128.25" y="331.38" width="3.4" height="6.21" fill="#55d655"/><rect x="131.65" y="331.38" width="1.3" height="6.21" fill="#2a852a"/><rect x="128.25" y="327.30" width="3.4" height="4.13" fill="#7787f0"/><rect x="131.65" y="327.30" width="1.3" height="4.13" fill="#3a48a0"/><rect x="128.25" y="326.40" width="4.7" height="1.1" fill="#39449a"/>
<rect x="142.65" y="339.22" width="3.4" height="1.43" fill="#f58c30"/><rect x="146.05" y="339.22" width="1.3" height="1.43" fill="#a05012"/><rect x="142.65" y="336.03" width="3.4" height="3.24" fill="#55d655"/><rect x="146.05" y="336.03" width="1.3" height="3.24" fill="#2a852a"/><rect x="142.65" y="334.20" width="3.4" height="1.88" fill="#7787f0"/><rect x="146.05" y="334.20" width="1.3" height="1.88" fill="#3a48a0"/><rect x="142.65" y="333.30" width="4.7" height="1.1" fill="#39449a"/>
<rect x="156.95" y="338.34" width="3.4" height="2.31" fill="#f58c30"/><rect x="160.35" y="338.34" width="1.3" height="2.31" fill="#a05012"/><rect x="156.95" y="333.60" width="3.4" height="4.78" fill="#55d655"/><rect x="160.35" y="333.60" width="1.3" height="4.78" fill="#2a852a"/><rect x="156.95" y="330.60" width="3.4" height="3.05" fill="#7787f0"/><rect x="160.35" y="330.60" width="1.3" height="3.05" fill="#3a48a0"/><rect x="156.95" y="329.70" width="4.7" height="1.1" fill="#39449a"/>
<rect x="171.05" y="337.39" width="3.4" height="3.26" fill="#f58c30"/><rect x="174.45" y="337.39" width="1.3" height="3.26" fill="#a05012"/><rect x="171.05" y="330.72" width="3.4" height="6.72" fill="#55d655"/><rect x="174.45" y="330.72" width="1.3" height="6.72" fill="#2a852a"/><rect x="171.05" y="326.60" width="3.4" height="4.17" fill="#7787f0"/><rect x="174.45" y="326.60" width="1.3" height="4.17" fill="#3a48a0"/><rect x="171.05" y="325.70" width="4.7" height="1.1" fill="#39449a"/>
<rect x="185.35" y="337.35" width="3.4" height="3.30" fill="#f58c30"/><rect x="188.75" y="337.35" width="1.3" height="3.30" fill="#a05012"/><rect x="185.35" y="330.56" width="3.4" height="6.84" fill="#55d655"/><rect x="188.75" y="330.56" width="1.3" height="6.84" fill="#2a852a"/><rect x="185.35" y="327.00" width="3.4" height="3.61" fill="#7787f0"/><rect x="188.75" y="327.00" width="1.3" height="3.61" fill="#3a48a0"/><rect x="185.35" y="326.10" width="4.7" height="1.1" fill="#39449a"/>
<rect x="199.55" y="336.92" width="3.4" height="3.73" fill="#f58c30"/><rect x="202.95" y="336.92" width="1.3" height="3.73" fill="#a05012"/><rect x="199.55" y="330.06" width="3.4" height="6.91" fill="#55d655"/><rect x="202.95" y="330.06" width="1.3" height="6.91" fill="#2a852a"/><rect x="199.55" y="325.90" width="3.4" height="4.21" fill="#7787f0"/><rect x="202.95" y="325.90" width="1.3" height="4.21" fill="#3a48a0"/><rect x="199.55" y="325.00" width="4.7" height="1.1" fill="#39449a"/>
<rect x="213.95" y="337.22" width="3.4" height="3.43" fill="#f58c30"/><rect x="217.35" y="337.22" width="1.3" height="3.43" fill="#a05012"/><rect x="213.95" y="329.74" width="3.4" height="7.53" fill="#55d655"/><rect x="217.35" y="329.74" width="1.3" height="7.53" fill="#2a852a"/><rect x="213.95" y="325.90" width="3.4" height="3.89" fill="#7787f0"/><rect x="217.35" y="325.90" width="1.3" height="3.89" fill="#3a48a0"/><rect x="213.95" y="325.00" width="4.7" height="1.1" fill="#39449a"/>
<rect x="228.25" y="336.80" width="3.4" height="3.85" fill="#f58c30"/><rect x="231.65" y="336.80" width="1.3" height="3.85" fill="#a05012"/><rect x="228.25" y="330.05" width="3.4" height="6.79" fill="#55d655"/><rect x="231.65" y="330.05" width="1.3" height="6.79" fill="#2a852a"/><rect x="228.25" y="325.90" width="3.4" height="4.20" fill="#7787f0"/><rect x="231.65" y="325.90" width="1.3" height="4.20" fill="#3a48a0"/><rect x="228.25" y="325.00" width="4.7" height="1.1" fill="#39449a"/>
<rect x="242.25" y="336.95" width="3.4" height="3.70" fill="#f58c30"/><rect x="245.65" y="336.95" width="1.3" height="3.70" fill="#a05012"/><rect x="242.25" y="331.33" width="3.4" height="5.67" fill="#55d655"/><rect x="245.65" y="331.33" width="1.3" height="5.67" fill="#2a852a"/><rect x="242.25" y="328.30" width="3.4" height="3.08" fill="#7787f0"/><rect x="245.65" y="328.30" width="1.3" height="3.08" fill="#3a48a0"/><rect x="242.25" y="327.40" width="4.7" height="1.1" fill="#39449a"/>
<rect x="256.35" y="337.43" width="3.4" height="3.22" fill="#f58c30"/><rect x="259.75" y="337.43" width="1.3" height="3.22" fill="#a05012"/><rect x="256.35" y="332.89" width="3.4" height="4.59" fill="#55d655"/><rect x="259.75" y="332.89" width="1.3" height="4.59" fill="#2a852a"/><rect x="256.35" y="330.10" width="3.4" height="2.84" fill="#7787f0"/><rect x="259.75" y="330.10" width="1.3" height="2.84" fill="#3a48a0"/><rect x="256.35" y="329.20" width="4.7" height="1.1" fill="#39449a"/>
<rect x="270.45" y="338.08" width="3.4" height="2.57" fill="#f58c30"/><rect x="273.85" y="338.08" width="1.3" height="2.57" fill="#a05012"/><rect x="270.45" y="333.54" width="3.4" height="4.59" fill="#55d655"/><rect x="273.85" y="333.54" width="1.3" height="4.59" fill="#2a852a"/><rect x="270.45" y="331.30" width="3.4" height="2.29" fill="#7787f0"/><rect x="273.85" y="331.30" width="1.3" height="2.29" fill="#3a48a0"/><rect x="270.45" y="330.40" width="4.7" height="1.1" fill="#39449a"/>
<rect x="284.75" y="338.87" width="3.4" height="1.78" fill="#f58c30"/><rect x="288.15" y="338.87" width="1.3" height="1.78" fill="#a05012"/><rect x="284.75" y="335.84" width="3.4" height="3.09" fill="#55d655"/><rect x="288.15" y="335.84" width="1.3" height="3.09" fill="#2a852a"/><rect x="284.75" y="334.20" width="3.4" height="1.69" fill="#7787f0"/><rect x="288.15" y="334.20" width="1.3" height="1.69" fill="#3a48a0"/><rect x="284.75" y="333.30" width="4.7" height="1.1" fill="#39449a"/>
<rect x="299.25" y="337.35" width="3.4" height="3.30" fill="#f58c30"/><rect x="302.65" y="337.35" width="1.3" height="3.30" fill="#a05012"/><rect x="299.25" y="332.77" width="3.4" height="4.63" fill="#55d655"/><rect x="302.65" y="332.77" width="1.3" height="4.63" fill="#2a852a"/><rect x="299.25" y="330.10" width="3.4" height="2.72" fill="#7787f0"/><rect x="302.65" y="330.10" width="1.3" height="2.72" fill="#3a48a0"/><rect x="299.25" y="329.20" width="4.7" height="1.1" fill="#39449a"/>
<rect x="313.25" y="336.03" width="3.4" height="4.62" fill="#f58c30"/><rect x="316.65" y="336.03" width="1.3" height="4.62" fill="#a05012"/><rect x="313.25" y="329.82" width="3.4" height="6.25" fill="#55d655"/><rect x="316.65" y="329.82" width="1.3" height="6.25" fill="#2a852a"/><rect x="313.25" y="326.50" width="3.4" height="3.37" fill="#7787f0"/><rect x="316.65" y="326.50" width="1.3" height="3.37" fill="#3a48a0"/><rect x="313.25" y="325.60" width="4.7" height="1.1" fill="#39449a"/>
<rect x="327.55" y="336.27" width="3.4" height="4.38" fill="#f58c30"/><rect x="330.95" y="336.27" width="1.3" height="4.38" fill="#a05012"/><rect x="327.55" y="330.36" width="3.4" height="5.96" fill="#55d655"/><rect x="330.95" y="330.36" width="1.3" height="5.96" fill="#2a852a"/><rect x="327.55" y="327.40" width="3.4" height="3.01" fill="#7787f0"/><rect x="330.95" y="327.40" width="1.3" height="3.01" fill="#3a48a0"/><rect x="327.55" y="326.50" width="4.7" height="1.1" fill="#39449a"/>
<rect x="341.85" y="336.55" width="3.4" height="4.10" fill="#f58c30"/><rect x="345.25" y="336.55" width="1.3" height="4.10" fill="#a05012"/><rect x="341.85" y="329.99" width="3.4" height="6.61" fill="#55d655"/><rect x="345.25" y="329.99" width="1.3" height="6.61" fill="#2a852a"/><rect x="341.85" y="327.00" width="3.4" height="3.04" fill="#7787f0"/><rect x="345.25" y="327.00" width="1.3" height="3.04" fill="#3a48a0"/><rect x="341.85" y="326.10" width="4.7" height="1.1" fill="#39449a"/>
<rect x="356.05" y="338.80" width="3.4" height="1.85" fill="#f58c30"/><rect x="359.45" y="338.80" width="1.3" height="1.85" fill="#a05012"/><rect x="356.05" y="335.72" width="3.4" height="3.13" fill="#55d655"/><rect x="359.45" y="335.72" width="1.3" height="3.13" fill="#2a852a"/><rect x="356.05" y="334.60" width="3.4" height="1.17" fill="#7787f0"/><rect x="359.45" y="334.60" width="1.3" height="1.17" fill="#3a48a0"/><rect x="356.05" y="333.70" width="4.7" height="1.1" fill="#39449a"/>
<rect x="153.45" y="350.52" width="3.4" height="3.23" fill="#f58c30"/><rect x="156.85" y="350.52" width="1.3" height="3.23" fill="#a05012"/><rect x="153.45" y="343.96" width="3.4" height="6.60" fill="#55d655"/><rect x="156.85" y="343.96" width="1.3" height="6.60" fill="#2a852a"/><rect x="153.45" y="340.50" width="3.4" height="3.51" fill="#7787f0"/><rect x="156.85" y="340.50" width="1.3" height="3.51" fill="#3a48a0"/><rect x="153.45" y="339.60" width="4.7" height="1.1" fill="#39449a"/>
<rect x="167.75" y="351.06" width="3.4" height="2.69" fill="#f58c30"/><rect x="171.15" y="351.06" width="1.3" height="2.69" fill="#a05012"/><rect x="167.75" y="344.30" width="3.4" height="6.81" fill="#55d655"/><rect x="171.15" y="344.30" width="1.3" height="6.81" fill="#2a852a"/><rect x="167.75" y="341.00" width="3.4" height="3.35" fill="#7787f0"/><rect x="171.15" y="341.00" width="1.3" height="3.35" fill="#3a48a0"/><rect x="167.75" y="340.10" width="4.7" height="1.1" fill="#39449a"/>
<rect x="181.95" y="350.71" width="3.4" height="3.04" fill="#f58c30"/><rect x="185.35" y="350.71" width="1.3" height="3.04" fill="#a05012"/><rect x="181.95" y="345.25" width="3.4" height="5.51" fill="#55d655"/><rect x="185.35" y="345.25" width="1.3" height="5.51" fill="#2a852a"/><rect x="181.95" y="342.30" width="3.4" height="3.00" fill="#7787f0"/><rect x="185.35" y="342.30" width="1.3" height="3.00" fill="#3a48a0"/><rect x="181.95" y="341.40" width="4.7" height="1.1" fill="#39449a"/>
<rect x="196.25" y="349.99" width="3.4" height="3.76" fill="#f58c30"/><rect x="199.65" y="349.99" width="1.3" height="3.76" fill="#a05012"/><rect x="196.25" y="341.68" width="3.4" height="8.36" fill="#55d655"/><rect x="199.65" y="341.68" width="1.3" height="8.36" fill="#2a852a"/><rect x="196.25" y="336.70" width="3.4" height="5.03" fill="#7787f0"/><rect x="199.65" y="336.70" width="1.3" height="5.03" fill="#3a48a0"/><rect x="196.25" y="335.80" width="4.7" height="1.1" fill="#39449a"/>
<rect x="210.55" y="350.11" width="3.4" height="3.64" fill="#f58c30"/><rect x="213.95" y="350.11" width="1.3" height="3.64" fill="#a05012"/><rect x="210.55" y="342.66" width="3.4" height="7.51" fill="#55d655"/><rect x="213.95" y="342.66" width="1.3" height="7.51" fill="#2a852a"/><rect x="210.55" y="338.20" width="3.4" height="4.51" fill="#7787f0"/><rect x="213.95" y="338.20" width="1.3" height="4.51" fill="#3a48a0"/><rect x="210.55" y="337.30" width="4.7" height="1.1" fill="#39449a"/>
<rect x="224.65" y="349.62" width="3.4" height="4.13" fill="#f58c30"/><rect x="228.05" y="349.62" width="1.3" height="4.13" fill="#a05012"/><rect x="224.65" y="342.92" width="3.4" height="6.75" fill="#55d655"/><rect x="228.05" y="342.92" width="1.3" height="6.75" fill="#2a852a"/><rect x="224.65" y="338.70" width="3.4" height="4.27" fill="#7787f0"/><rect x="228.05" y="338.70" width="1.3" height="4.27" fill="#3a48a0"/><rect x="224.65" y="337.80" width="4.7" height="1.1" fill="#39449a"/>
<rect x="238.85" y="349.65" width="3.4" height="4.10" fill="#f58c30"/><rect x="242.25" y="349.65" width="1.3" height="4.10" fill="#a05012"/><rect x="238.85" y="343.57" width="3.4" height="6.13" fill="#55d655"/><rect x="242.25" y="343.57" width="1.3" height="6.13" fill="#2a852a"/><rect x="238.85" y="340.00" width="3.4" height="3.62" fill="#7787f0"/><rect x="242.25" y="340.00" width="1.3" height="3.62" fill="#3a48a0"/><rect x="238.85" y="339.10" width="4.7" height="1.1" fill="#39449a"/>
<rect x="252.95" y="349.56" width="3.4" height="4.19" fill="#f58c30"/><rect x="256.35" y="349.56" width="1.3" height="4.19" fill="#a05012"/><rect x="252.95" y="342.73" width="3.4" height="6.88" fill="#55d655"/><rect x="256.35" y="342.73" width="1.3" height="6.88" fill="#2a852a"/><rect x="252.95" y="339.60" width="3.4" height="3.18" fill="#7787f0"/><rect x="256.35" y="339.60" width="1.3" height="3.18" fill="#3a48a0"/><rect x="252.95" y="338.70" width="4.7" height="1.1" fill="#39449a"/>
<rect x="267.25" y="350.68" width="3.4" height="3.07" fill="#f58c30"/><rect x="270.65" y="350.68" width="1.3" height="3.07" fill="#a05012"/><rect x="267.25" y="346.07" width="3.4" height="4.65" fill="#55d655"/><rect x="270.65" y="346.07" width="1.3" height="4.65" fill="#2a852a"/><rect x="267.25" y="343.60" width="3.4" height="2.52" fill="#7787f0"/><rect x="270.65" y="343.60" width="1.3" height="2.52" fill="#3a48a0"/><rect x="267.25" y="342.70" width="4.7" height="1.1" fill="#39449a"/>
<rect x="281.45" y="350.64" width="3.4" height="3.11" fill="#f58c30"/><rect x="284.85" y="350.64" width="1.3" height="3.11" fill="#a05012"/><rect x="281.45" y="345.77" width="3.4" height="4.91" fill="#55d655"/><rect x="284.85" y="345.77" width="1.3" height="4.91" fill="#2a852a"/><rect x="281.45" y="343.60" width="3.4" height="2.22" fill="#7787f0"/><rect x="284.85" y="343.60" width="1.3" height="2.22" fill="#3a48a0"/><rect x="281.45" y="342.70" width="4.7" height="1.1" fill="#39449a"/>
<rect x="295.75" y="351.67" width="3.4" height="2.08" fill="#f58c30"/><rect x="299.15" y="351.67" width="1.3" height="2.08" fill="#a05012"/><rect x="295.75" y="348.88" width="3.4" height="2.83" fill="#55d655"/><rect x="299.15" y="348.88" width="1.3" height="2.83" fill="#2a852a"/><rect x="295.75" y="347.20" width="3.4" height="1.73" fill="#7787f0"/><rect x="299.15" y="347.20" width="1.3" height="1.73" fill="#3a48a0"/><rect x="295.75" y="346.30" width="4.7" height="1.1" fill="#39449a"/>
<rect x="309.95" y="351.39" width="3.4" height="2.36" fill="#f58c30"/><rect x="313.35" y="351.39" width="1.3" height="2.36" fill="#a05012"/><rect x="309.95" y="347.20" width="3.4" height="4.24" fill="#55d655"/><rect x="313.35" y="347.20" width="1.3" height="4.24" fill="#2a852a"/><rect x="309.95" y="345.40" width="3.4" height="1.85" fill="#7787f0"/><rect x="313.35" y="345.40" width="1.3" height="1.85" fill="#3a48a0"/><rect x="309.95" y="344.50" width="4.7" height="1.1" fill="#39449a"/>
<rect x="324.25" y="349.46" width="3.4" height="4.29" fill="#f58c30"/><rect x="327.65" y="349.46" width="1.3" height="4.29" fill="#a05012"/><rect x="324.25" y="343.53" width="3.4" height="5.98" fill="#55d655"/><rect x="327.65" y="343.53" width="1.3" height="5.98" fill="#2a852a"/><rect x="324.25" y="340.30" width="3.4" height="3.28" fill="#7787f0"/><rect x="327.65" y="340.30" width="1.3" height="3.28" fill="#3a48a0"/><rect x="324.25" y="339.40" width="4.7" height="1.1" fill="#39449a"/>
<rect x="338.35" y="349.80" width="3.4" height="3.95" fill="#f58c30"/><rect x="341.75" y="349.80" width="1.3" height="3.95" fill="#a05012"/><rect x="338.35" y="343.42" width="3.4" height="6.44" fill="#55d655"/><rect x="341.75" y="343.42" width="1.3" height="6.44" fill="#2a852a"/><rect x="338.35" y="340.90" width="3.4" height="2.57" fill="#7787f0"/><rect x="341.75" y="340.90" width="1.3" height="2.57" fill="#3a48a0"/><rect x="338.35" y="340.00" width="4.7" height="1.1" fill="#39449a"/>
<rect x="352.65" y="351.39" width="3.4" height="2.36" fill="#f58c30"/><rect x="356.05" y="351.39" width="1.3" height="2.36" fill="#a05012"/><rect x="352.65" y="347.91" width="3.4" height="3.53" fill="#55d655"/><rect x="356.05" y="347.91" width="1.3" height="3.53" fill="#2a852a"/><rect x="352.65" y="346.30" width="3.4" height="1.66" fill="#7787f0"/><rect x="356.05" y="346.30" width="1.3" height="1.66" fill="#3a48a0"/><rect x="352.65" y="345.40" width="4.7" height="1.1" fill="#39449a"/>
<rect x="192.95" y="363.10" width="3.4" height="3.75" fill="#f58c30"/><rect x="196.35" y="363.10" width="1.3" height="3.75" fill="#a05012"/><rect x="192.95" y="356.40" width="3.4" height="6.76" fill="#55d655"/><rect x="196.35" y="356.40" width="1.3" height="6.76" fill="#2a852a"/><rect x="192.95" y="352.60" width="3.4" height="3.85" fill="#7787f0"/><rect x="196.35" y="352.60" width="1.3" height="3.85" fill="#3a48a0"/><rect x="192.95" y="351.70" width="4.7" height="1.1" fill="#39449a"/>
<rect x="207.15" y="363.77" width="3.4" height="3.08" fill="#f58c30"/><rect x="210.55" y="363.77" width="1.3" height="3.08" fill="#a05012"/><rect x="207.15" y="357.65" width="3.4" height="6.17" fill="#55d655"/><rect x="210.55" y="357.65" width="1.3" height="6.17" fill="#2a852a"/><rect x="207.15" y="354.40" width="3.4" height="3.30" fill="#7787f0"/><rect x="210.55" y="354.40" width="1.3" height="3.30" fill="#3a48a0"/><rect x="207.15" y="353.50" width="4.7" height="1.1" fill="#39449a"/>
<rect x="221.45" y="365.47" width="3.4" height="1.38" fill="#f58c30"/><rect x="224.85" y="365.47" width="1.3" height="1.38" fill="#a05012"/><rect x="221.45" y="362.87" width="3.4" height="2.66" fill="#55d655"/><rect x="224.85" y="362.87" width="1.3" height="2.66" fill="#2a852a"/><rect x="221.45" y="361.50" width="3.4" height="1.42" fill="#7787f0"/><rect x="224.85" y="361.50" width="1.3" height="1.42" fill="#3a48a0"/><rect x="221.45" y="360.60" width="4.7" height="1.1" fill="#39449a"/>
<rect x="235.35" y="364.24" width="3.4" height="2.61" fill="#f58c30"/><rect x="238.75" y="364.24" width="1.3" height="2.61" fill="#a05012"/><rect x="235.35" y="358.92" width="3.4" height="5.36" fill="#55d655"/><rect x="238.75" y="358.92" width="1.3" height="5.36" fill="#2a852a"/><rect x="235.35" y="356.20" width="3.4" height="2.77" fill="#7787f0"/><rect x="238.75" y="356.20" width="1.3" height="2.77" fill="#3a48a0"/><rect x="235.35" y="355.30" width="4.7" height="1.1" fill="#39449a"/>
<rect x="249.65" y="363.32" width="3.4" height="3.53" fill="#f58c30"/><rect x="253.05" y="363.32" width="1.3" height="3.53" fill="#a05012"/><rect x="249.65" y="358.13" width="3.4" height="5.24" fill="#55d655"/><rect x="253.05" y="358.13" width="1.3" height="5.24" fill="#2a852a"/><rect x="249.65" y="355.30" width="3.4" height="2.88" fill="#7787f0"/><rect x="253.05" y="355.30" width="1.3" height="2.88" fill="#3a48a0"/><rect x="249.65" y="354.40" width="4.7" height="1.1" fill="#39449a"/>
<rect x="264.05" y="363.90" width="3.4" height="2.95" fill="#f58c30"/><rect x="267.45" y="363.90" width="1.3" height="2.95" fill="#a05012"/><rect x="264.05" y="359.21" width="3.4" height="4.74" fill="#55d655"/><rect x="267.45" y="359.21" width="1.3" height="4.74" fill="#2a852a"/><rect x="264.05" y="357.00" width="3.4" height="2.26" fill="#7787f0"/><rect x="267.45" y="357.00" width="1.3" height="2.26" fill="#3a48a0"/><rect x="264.05" y="356.10" width="4.7" height="1.1" fill="#39449a"/>
<rect x="278.15" y="363.50" width="3.4" height="3.35" fill="#f58c30"/><rect x="281.55" y="363.50" width="1.3" height="3.35" fill="#a05012"/><rect x="278.15" y="358.61" width="3.4" height="4.94" fill="#55d655"/><rect x="281.55" y="358.61" width="1.3" height="4.94" fill="#2a852a"/><rect x="278.15" y="355.80" width="3.4" height="2.86" fill="#7787f0"/><rect x="281.55" y="355.80" width="1.3" height="2.86" fill="#3a48a0"/><rect x="278.15" y="354.90" width="4.7" height="1.1" fill="#39449a"/>
<rect x="292.35" y="363.55" width="3.4" height="3.30" fill="#f58c30"/><rect x="295.75" y="363.55" width="1.3" height="3.30" fill="#a05012"/><rect x="292.35" y="358.69" width="3.4" height="4.91" fill="#55d655"/><rect x="295.75" y="358.69" width="1.3" height="4.91" fill="#2a852a"/><rect x="292.35" y="356.20" width="3.4" height="2.54" fill="#7787f0"/><rect x="295.75" y="356.20" width="1.3" height="2.54" fill="#3a48a0"/><rect x="292.35" y="355.30" width="4.7" height="1.1" fill="#39449a"/>
<rect x="306.65" y="363.84" width="3.4" height="3.01" fill="#f58c30"/><rect x="310.05" y="363.84" width="1.3" height="3.01" fill="#a05012"/><rect x="306.65" y="359.32" width="3.4" height="4.56" fill="#55d655"/><rect x="310.05" y="359.32" width="1.3" height="4.56" fill="#2a852a"/><rect x="306.65" y="357.00" width="3.4" height="2.37" fill="#7787f0"/><rect x="310.05" y="357.00" width="1.3" height="2.37" fill="#3a48a0"/><rect x="306.65" y="356.10" width="4.7" height="1.1" fill="#39449a"/>
<rect x="320.95" y="363.96" width="3.4" height="2.89" fill="#f58c30"/><rect x="324.35" y="363.96" width="1.3" height="2.89" fill="#a05012"/><rect x="320.95" y="360.01" width="3.4" height="3.99" fill="#55d655"/><rect x="324.35" y="360.01" width="1.3" height="3.99" fill="#2a852a"/><rect x="320.95" y="358.30" width="3.4" height="1.76" fill="#7787f0"/><rect x="324.35" y="358.30" width="1.3" height="1.76" fill="#3a48a0"/><rect x="320.95" y="357.40" width="4.7" height="1.1" fill="#39449a"/>
<rect x="335.15" y="363.16" width="3.4" height="3.69" fill="#f58c30"/><rect x="338.55" y="363.16" width="1.3" height="3.69" fill="#a05012"/><rect x="335.15" y="357.28" width="3.4" height="5.93" fill="#55d655"/><rect x="338.55" y="357.28" width="1.3" height="5.93" fill="#2a852a"/><rect x="335.15" y="354.40" width="3.4" height="2.93" fill="#7787f0"/><rect x="338.55" y="354.40" width="1.3" height="2.93" fill="#3a48a0"/><rect x="335.15" y="353.50" width="4.7" height="1.1" fill="#39449a"/>
<rect x="349.35" y="362.77" width="3.4" height="4.08" fill="#f58c30"/><rect x="352.75" y="362.77" width="1.3" height="4.08" fill="#a05012"/><rect x="349.35" y="357.74" width="3.4" height="5.08" fill="#55d655"/><rect x="352.75" y="357.74" width="1.3" height="5.08" fill="#2a852a"/><rect x="349.35" y="355.30" width="3.4" height="2.49" fill="#7787f0"/><rect x="352.75" y="355.30" width="1.3" height="2.49" fill="#3a48a0"/><rect x="349.35" y="354.40" width="4.7" height="1.1" fill="#39449a"/>
<rect x="317.65" y="377.03" width="3.4" height="2.92" fill="#f58c30"/><rect x="321.05" y="377.03" width="1.3" height="2.92" fill="#a05012"/><rect x="317.65" y="372.73" width="3.4" height="4.35" fill="#55d655"/><rect x="321.05" y="372.73" width="1.3" height="4.35" fill="#2a852a"/><rect x="317.65" y="370.50" width="3.4" height="2.28" fill="#7787f0"/><rect x="321.05" y="370.50" width="1.3" height="2.28" fill="#3a48a0"/><rect x="317.65" y="369.60" width="4.7" height="1.1" fill="#39449a"/>
<rect x="331.95" y="375.76" width="3.4" height="4.19" fill="#f58c30"/><rect x="335.35" y="375.76" width="1.3" height="4.19" fill="#a05012"/><rect x="331.95" y="368.84" width="3.4" height="6.97" fill="#55d655"/><rect x="335.35" y="368.84" width="1.3" height="6.97" fill="#2a852a"/><rect x="331.95" y="366.00" width="3.4" height="2.89" fill="#7787f0"/><rect x="335.35" y="366.00" width="1.3" height="2.89" fill="#3a48a0"/><rect x="331.95" y="365.10" width="4.7" height="1.1" fill="#39449a"/>
<text x="24.3" y="361.4" font-size="8.75" font-weight="bold" class="sm">Landsat scenes used</text>
<rect x="24.1" y="366.1" width="15.6" height="7.3" fill="#7586ee"/>
<text x="42.2" y="372.6" font-size="8.7" font-weight="bold" class="sm">Landsat 8 scenes</text>
<rect x="24.1" y="375.2" width="15.6" height="7.3" fill="#52d052"/>
<text x="42.2" y="381.7" font-size="8.7" font-weight="bold" class="sm">Landsat 7 scenes</text>
<rect x="24.1" y="384.3" width="15.6" height="7.3" fill="#f5842a"/>
<text x="42.2" y="390.8" font-size="8.7" font-weight="bold" class="sm">Landsat 5 scenes</text>
<rect x="26.1" y="398.6" width="8.9" height="4.1" fill="#7586ee"/><polygon points="35,398.6 38.3,396 38.3,401.5 35,402.7" fill="#3f4aa0"/>
<rect x="26.1" y="402.6" width="8.9" height="4.8" fill="#52d052"/><polygon points="35,402.6 38.3,401.5 38.3,406.3 35,407.4" fill="#2e8f2e"/>
<rect x="26.1" y="407.4" width="8.9" height="4.3" fill="#f5842a"/><polygon points="35,407.4 38.3,406.3 38.3,410.6 35,411.7" fill="#b85a14"/>
<polygon points="26.1,398.6 29.4,396 38.3,396 35,398.6" fill="#3c4590"/>
<text x="42.2" y="407" font-size="8.6" font-weight="bold" class="sm">190</text>
<rect x="10.3" y="10.2" width="385.7" height="201.2" fill="none" stroke="#222" stroke-width="1.3"/>
<rect x="10.3" y="211.4" width="385.7" height="204.3" fill="none" stroke="#222" stroke-width="1.3"/>
<line x1="43.60" y1="7" x2="43.60" y2="10.2" stroke="#222" stroke-width="1"/>
<text x="43.60" y="5.4" font-size="7.3" text-anchor="middle" font-weight="bold" class="sm">70°E</text>
<line x1="92.20" y1="7" x2="92.20" y2="10.2" stroke="#222" stroke-width="1"/>
<text x="92.20" y="5.4" font-size="7.3" text-anchor="middle" font-weight="bold" class="sm">75°E</text>
<line x1="140.80" y1="7" x2="140.80" y2="10.2" stroke="#222" stroke-width="1"/>
<text x="140.80" y="5.4" font-size="7.3" text-anchor="middle" font-weight="bold" class="sm">80°E</text>
<line x1="189.40" y1="7" x2="189.40" y2="10.2" stroke="#222" stroke-width="1"/>
<text x="189.40" y="5.4" font-size="7.3" text-anchor="middle" font-weight="bold" class="sm">85°E</text>
<line x1="238.00" y1="7" x2="238.00" y2="10.2" stroke="#222" stroke-width="1"/>
<text x="238.00" y="5.4" font-size="7.3" text-anchor="middle" font-weight="bold" class="sm">90°E</text>
<line x1="286.60" y1="7" x2="286.60" y2="10.2" stroke="#222" stroke-width="1"/>
<text x="286.60" y="5.4" font-size="7.3" text-anchor="middle" font-weight="bold" class="sm">95°E</text>
<line x1="335.20" y1="7" x2="335.20" y2="10.2" stroke="#222" stroke-width="1"/>
<text x="335.20" y="5.4" font-size="7.3" text-anchor="middle" font-weight="bold" class="sm">100°E</text>
<line x1="383.80" y1="7" x2="383.80" y2="10.2" stroke="#222" stroke-width="1"/>
<text x="383.80" y="5.4" font-size="7.3" text-anchor="middle" font-weight="bold" class="sm">105°E</text>
<line x1="7" y1="37.20" x2="10.3" y2="37.20" stroke="#222" stroke-width="1"/>
<text transform="translate(5.6,37.20) rotate(-90)" font-size="7.3" text-anchor="middle" font-weight="bold" class="sm">40°N</text>
<line x1="7" y1="85.20" x2="10.3" y2="85.20" stroke="#222" stroke-width="1"/>
<text transform="translate(5.6,85.20) rotate(-90)" font-size="7.3" text-anchor="middle" font-weight="bold" class="sm">35°N</text>
<line x1="7" y1="133.20" x2="10.3" y2="133.20" stroke="#222" stroke-width="1"/>
<text transform="translate(5.6,133.20) rotate(-90)" font-size="7.3" text-anchor="middle" font-weight="bold" class="sm">30°N</text>
<line x1="7" y1="181.20" x2="10.3" y2="181.20" stroke="#222" stroke-width="1"/>
<text transform="translate(5.6,181.20) rotate(-90)" font-size="7.3" text-anchor="middle" font-weight="bold" class="sm">25°N</text>
<line x1="54.00" y1="415.7" x2="54.00" y2="418.5" stroke="#222" stroke-width="1"/>
<text x="54.00" y="426" font-size="7.3" text-anchor="middle" font-weight="bold" class="sm">70°E</text>
<line x1="100.20" y1="415.7" x2="100.20" y2="418.5" stroke="#222" stroke-width="1"/>
<text x="100.20" y="426" font-size="7.3" text-anchor="middle" font-weight="bold" class="sm">75°E</text>
<line x1="146.40" y1="415.7" x2="146.40" y2="418.5" stroke="#222" stroke-width="1"/>
<text x="146.40" y="426" font-size="7.3" text-anchor="middle" font-weight="bold" class="sm">80°E</text>
<line x1="192.60" y1="415.7" x2="192.60" y2="418.5" stroke="#222" stroke-width="1"/>
<text x="192.60" y="426" font-size="7.3" text-anchor="middle" font-weight="bold" class="sm">85°E</text>
<line x1="238.80" y1="415.7" x2="238.80" y2="418.5" stroke="#222" stroke-width="1"/>
<text x="238.80" y="426" font-size="7.3" text-anchor="middle" font-weight="bold" class="sm">90°E</text>
<line x1="285.00" y1="415.7" x2="285.00" y2="418.5" stroke="#222" stroke-width="1"/>
<text x="285.00" y="426" font-size="7.3" text-anchor="middle" font-weight="bold" class="sm">95°E</text>
<line x1="331.20" y1="415.7" x2="331.20" y2="418.5" stroke="#222" stroke-width="1"/>
<text x="331.20" y="426" font-size="7.3" text-anchor="middle" font-weight="bold" class="sm">100°E</text>
<line x1="377.40" y1="415.7" x2="377.40" y2="418.5" stroke="#222" stroke-width="1"/>
<text x="377.40" y="426" font-size="7.3" text-anchor="middle" font-weight="bold" class="sm">105°E</text>
<line x1="7" y1="251.80" x2="10.3" y2="251.80" stroke="#222" stroke-width="1"/>
<text transform="translate(5.6,251.80) rotate(-90)" font-size="7.3" text-anchor="middle" font-weight="bold" class="sm">40°N</text>
<line x1="7" y1="298.10" x2="10.3" y2="298.10" stroke="#222" stroke-width="1"/>
<text transform="translate(5.6,298.10) rotate(-90)" font-size="7.3" text-anchor="middle" font-weight="bold" class="sm">35°N</text>
<line x1="7" y1="344.40" x2="10.3" y2="344.40" stroke="#222" stroke-width="1"/>
<text transform="translate(5.6,344.40) rotate(-90)" font-size="7.3" text-anchor="middle" font-weight="bold" class="sm">30°N</text>
<line x1="7" y1="390.70" x2="10.3" y2="390.70" stroke="#222" stroke-width="1"/>
<text transform="translate(5.6,390.70) rotate(-90)" font-size="7.3" text-anchor="middle" font-weight="bold" class="sm">25°N</text>
<text x="16.9" y="23.3" font-size="8.7" font-weight="bold" class="sm">(a)</text>
<text x="16.6" y="225.5" font-size="8.7" font-weight="bold" class="sm">(b)</text>
</svg>
</body></html>
